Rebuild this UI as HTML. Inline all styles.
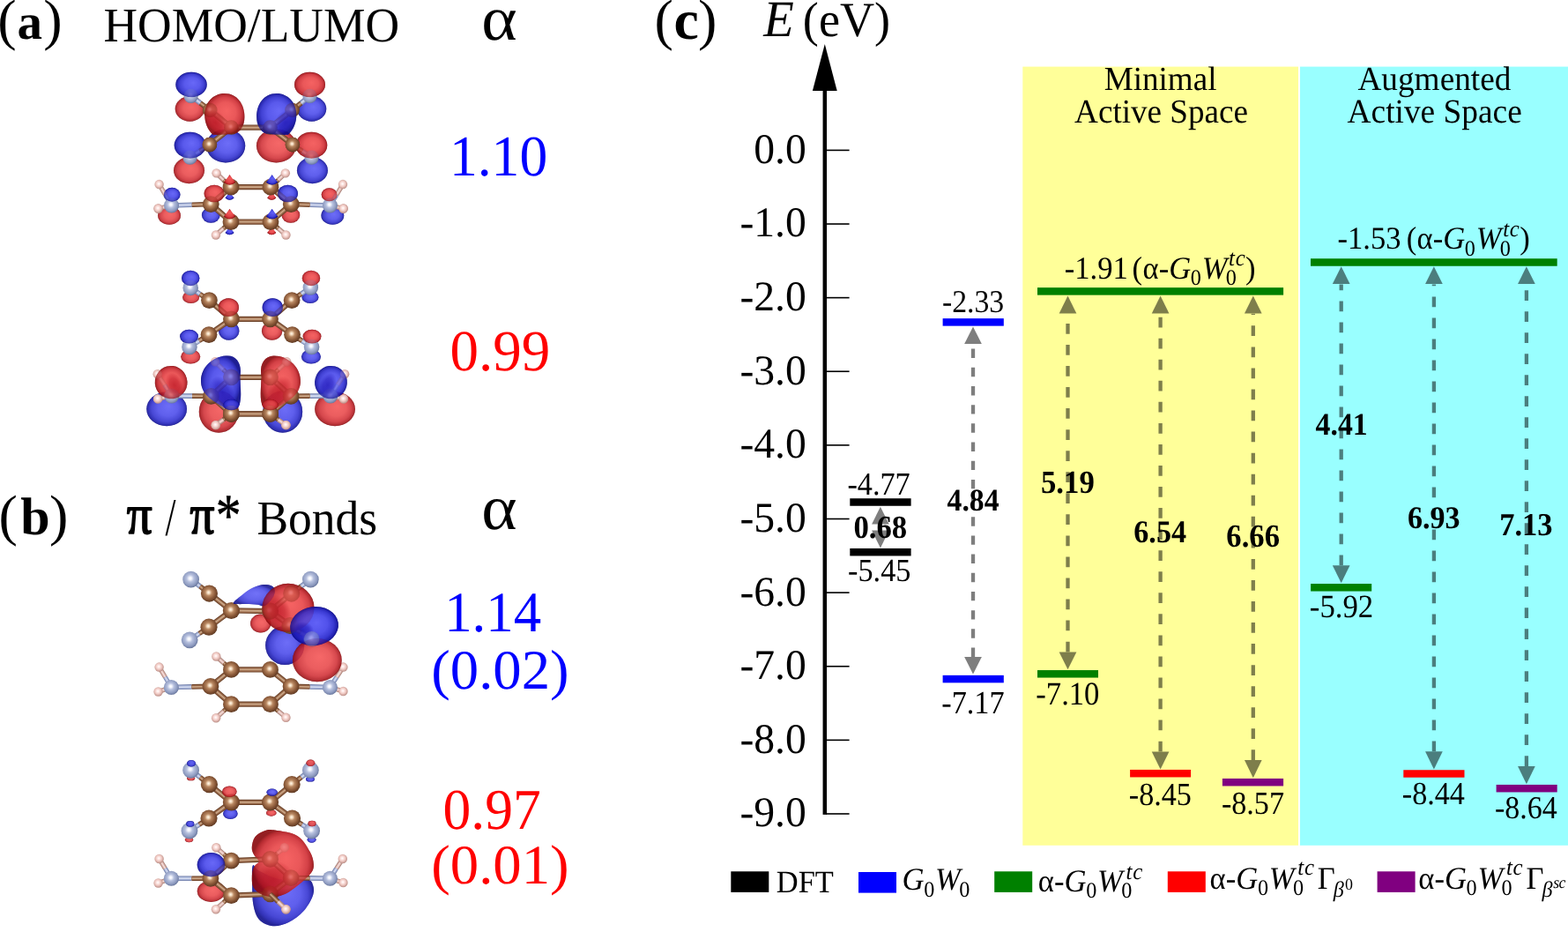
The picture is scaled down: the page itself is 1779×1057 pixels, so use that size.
<!DOCTYPE html>
<html><head><meta charset="utf-8"><title>Figure</title>
<style>
html,body{margin:0;padding:0;background:#fff;}
body{width:1779px;height:1057px;overflow:hidden;}
svg{display:block;font-family:'Liberation Serif', serif;font-kerning:none;text-rendering:geometricPrecision;}
text{white-space:pre;}
</style></head><body>
<svg width="1779" height="1057" viewBox="0 0 1779 1057">
<rect x="1160.3" y="75.6" width="312.7" height="883.2" fill="#ffff99"/>
<rect x="1475" y="75.6" width="304" height="883.2" fill="#99ffff"/>
<rect x="933.55" y="100" width="4.5" height="823.88" fill="#000"/>
<polygon points="935.8,50 921.9,103 949.7,103" fill="#000"/>
<rect x="937" y="169.60" width="26.6" height="1.6" fill="#000"/>
<rect x="937" y="253.22" width="26.6" height="1.6" fill="#000"/>
<rect x="937" y="336.84" width="26.6" height="1.6" fill="#000"/>
<rect x="937" y="420.46" width="26.6" height="1.6" fill="#000"/>
<rect x="937" y="504.08" width="26.6" height="1.6" fill="#000"/>
<rect x="937" y="587.70" width="26.6" height="1.6" fill="#000"/>
<rect x="937" y="671.32" width="26.6" height="1.6" fill="#000"/>
<rect x="937" y="754.94" width="26.6" height="1.6" fill="#000"/>
<rect x="937" y="838.56" width="26.6" height="1.6" fill="#000"/>
<rect x="937" y="922.18" width="26.6" height="1.6" fill="#000"/>
<g opacity="0.5">
<line x1="998.9" y1="601.60" x2="998.9" y2="594.40" stroke="#000" stroke-width="4.3" stroke-dasharray="10.4 10.78"/>
<polygon points="998.9,574.70 989.05,594.40 1008.75,594.40" fill="#000"/>
<polygon points="998.9,621.60 989.05,601.60 1008.75,601.60" fill="#000"/>
</g>
<g opacity="0.5">
<line x1="1104.0" y1="744.90" x2="1104.0" y2="390.30" stroke="#000" stroke-width="4.3" stroke-dasharray="10.4 10.78"/>
<polygon points="1104.0,370.40 1094.15,390.00 1113.85,390.00" fill="#000"/>
<polygon points="1104.0,764.60 1094.15,744.90 1113.85,744.90" fill="#000"/>
</g>
<g opacity="0.5">
<line x1="1211.5" y1="739.40" x2="1211.5" y2="355.80" stroke="#000" stroke-width="4.3" stroke-dasharray="11.75 12.3"/>
<polygon points="1211.5,335.40 1201.65,355.50 1221.35,355.50" fill="#000"/>
<polygon points="1211.5,759.30 1201.65,739.40 1221.35,739.40" fill="#000"/>
</g>
<g opacity="0.5">
<line x1="1316.6" y1="852.40" x2="1316.6" y2="355.80" stroke="#000" stroke-width="4.3" stroke-dasharray="11.75 12.3"/>
<polygon points="1316.6,335.40 1306.75,355.50 1326.45,355.50" fill="#000"/>
<polygon points="1316.6,872.50 1306.75,852.40 1326.45,852.40" fill="#000"/>
</g>
<g opacity="0.5">
<line x1="1421.8" y1="862.10" x2="1421.8" y2="355.80" stroke="#000" stroke-width="4.3" stroke-dasharray="11.75 12.3"/>
<polygon points="1421.8,335.40 1411.95,355.50 1431.65,355.50" fill="#000"/>
<polygon points="1421.8,882.30 1411.95,862.10 1431.65,862.10" fill="#000"/>
</g>
<g opacity="0.5">
<line x1="1521.7" y1="641.30" x2="1521.7" y2="322.40" stroke="#000" stroke-width="4.3" stroke-dasharray="11.75 12.25"/>
<polygon points="1521.7,302.15 1511.85,322.10 1531.55,322.10" fill="#000"/>
<polygon points="1521.7,661.20 1511.85,641.30 1531.55,641.30" fill="#000"/>
</g>
<g opacity="0.5">
<line x1="1626.9" y1="852.30" x2="1626.9" y2="322.40" stroke="#000" stroke-width="4.3" stroke-dasharray="11.75 12.25"/>
<polygon points="1626.9,302.15 1617.05,322.10 1636.75,322.10" fill="#000"/>
<polygon points="1626.9,872.50 1617.05,852.30 1636.75,852.30" fill="#000"/>
</g>
<g opacity="0.5">
<line x1="1731.9" y1="869.10" x2="1731.9" y2="322.40" stroke="#000" stroke-width="4.3" stroke-dasharray="11.75 12.25"/>
<polygon points="1731.9,302.15 1722.05,322.10 1741.75,322.10" fill="#000"/>
<polygon points="1731.9,889.20 1722.05,869.10 1741.75,869.10" fill="#000"/>
</g>
<rect x="964.30" y="565.25" width="69.30" height="8.5" fill="#000"/>
<rect x="964.30" y="621.95" width="69.30" height="8.5" fill="#000"/>
<rect x="1069.60" y="361.15" width="69.20" height="8.5" fill="#0000ff"/>
<rect x="1069.60" y="765.85" width="69.20" height="8.5" fill="#0000ff"/>
<rect x="1177.00" y="326.15" width="279.10" height="8.5" fill="#008000"/>
<rect x="1177.00" y="760.05" width="69.00" height="8.5" fill="#008000"/>
<rect x="1282.10" y="872.95" width="69.00" height="8.5" fill="#ff0000"/>
<rect x="1386.90" y="882.95" width="69.20" height="8.5" fill="#800080"/>
<rect x="1487.00" y="293.25" width="279.70" height="8.5" fill="#008000"/>
<rect x="1487.10" y="662.05" width="69.10" height="8.5" fill="#008000"/>
<rect x="1592.30" y="873.25" width="69.20" height="8.5" fill="#ff0000"/>
<rect x="1697.60" y="889.95" width="69.10" height="8.5" fill="#800080"/>
<text transform="translate(855.25,184.85) scale(1,1.0100)" font-size="47.65">0.0</text>
<text transform="translate(839.38,268.47) scale(1,1.0100)" font-size="47.65">-1.0</text>
<text transform="translate(839.38,352.09) scale(1,1.0100)" font-size="47.65">-2.0</text>
<text transform="translate(839.38,435.71) scale(1,1.0100)" font-size="47.65">-3.0</text>
<text transform="translate(839.38,519.33) scale(1,1.0100)" font-size="47.65">-4.0</text>
<text transform="translate(839.38,602.95) scale(1,1.0100)" font-size="47.65">-5.0</text>
<text transform="translate(839.38,686.57) scale(1,1.0100)" font-size="47.65">-6.0</text>
<text transform="translate(839.38,770.19) scale(1,1.0100)" font-size="47.65">-7.0</text>
<text transform="translate(839.38,853.81) scale(1,1.0100)" font-size="47.65">-8.0</text>
<text transform="translate(839.38,937.43) scale(1,1.0100)" font-size="47.65">-9.0</text>
<text transform="translate(961.48,560.50) scale(1,1.0700)" font-size="34.21">-4.77</text>
<text transform="translate(962.08,659.20) scale(1,1.0700)" font-size="34.28">-5.45</text>
<text transform="translate(1068.90,354.20) scale(1,1.0700)" font-size="33.78">-2.33</text>
<text transform="translate(1068.28,808.70) scale(1,1.0700)" font-size="34.26">-7.17</text>
<text transform="translate(1175.26,799.00) scale(1,1.0700)" font-size="34.66">-7.10</text>
<text transform="translate(1280.78,912.60) scale(1,1.0700)" font-size="34.18">-8.45</text>
<text transform="translate(1385.88,922.50) scale(1,1.0700)" font-size="34.16">-8.57</text>
<text transform="translate(1485.86,699.80) scale(1,1.0700)" font-size="34.76">-5.92</text>
<text transform="translate(1590.78,911.50) scale(1,1.0700)" font-size="34.18">-8.44</text>
<text transform="translate(1695.99,927.80) scale(1,1.0700)" font-size="33.99">-8.64</text>
<text transform="translate(968.43,609.80) scale(1,1.0550)" font-size="34.73" font-weight="bold">0.68</text>
<text transform="translate(1074.59,579.30) scale(1,1.0550)" font-size="33.71" font-weight="bold">4.84</text>
<text transform="translate(1180.96,559.30) scale(1,1.0550)" font-size="34.77" font-weight="bold">5.19</text>
<text transform="translate(1286.28,615.30) scale(1,1.0550)" font-size="34.17" font-weight="bold">6.54</text>
<text transform="translate(1391.36,620.10) scale(1,1.0550)" font-size="34.69" font-weight="bold">6.66</text>
<text transform="translate(1492.59,493.10) scale(1,1.0550)" font-size="33.78" font-weight="bold">4.41</text>
<text transform="translate(1596.99,599.10) scale(1,1.0550)" font-size="34.07" font-weight="bold">6.93</text>
<text transform="translate(1701.18,607.40) scale(1,1.0550)" font-size="34.49" font-weight="bold">7.13</text>
<text transform="translate(1252.68,101.80) scale(1,1.0300)" font-size="37.11">Minimal</text>
<text transform="translate(1219.09,138.50) scale(1,1.0300)" font-size="37.14">Active Space</text>
<text transform="translate(1540.39,101.80) scale(1,1.0300)" font-size="37.30">Augmented</text>
<text transform="translate(1528.59,138.50) scale(1,1.0300)" font-size="37.37">Active Space</text>
<text transform="scale(1,1.0000)"><tspan x="742.38" y="44.30" font-size="64.20">(</tspan><tspan x="764.57" y="44.30" font-size="63.68" font-weight="bold">c</tspan><tspan x="791.93" y="44.30" font-size="64.20">)</tspan></text>
<text transform="translate(866.21,40.90) scale(1,1.0300)" font-size="56.56" font-style="italic">E</text>
<text transform="translate(910.87,41.00) scale(1,1.0300)" font-size="54.18">(eV)</text>
<text transform="scale(1,1.0400)"><tspan x="1207.82" y="303.46" font-size="34.60">-1.91</tspan><tspan x="1284.58" y="303.46" font-size="34.60">(</tspan><tspan x="1296.38" y="303.46" font-size="34.60">α</tspan><tspan x="1314.72" y="303.46" font-size="34.60">-</tspan><tspan x="1326.19" y="303.46" font-size="34.60" font-style="italic">G</tspan><tspan x="1350.78" y="310.58" font-size="24.22">0</tspan><tspan x="1363.72" y="303.46" font-size="34.60" font-style="italic">W</tspan><tspan x="1390.78" y="310.58" font-size="24.22">0</tspan><tspan x="1394.11" y="289.13" font-size="24.91" font-style="italic" letter-spacing="0.7">tc</tspan><tspan x="1413.08" y="303.46" font-size="34.60">)</tspan></text>
<text transform="scale(1,1.0400)"><tspan x="1517.52" y="271.63" font-size="34.60">-1.53</tspan><tspan x="1595.63" y="271.63" font-size="34.60">(</tspan><tspan x="1607.43" y="271.63" font-size="34.60">α</tspan><tspan x="1625.77" y="271.63" font-size="34.60">-</tspan><tspan x="1637.24" y="271.63" font-size="34.60" font-style="italic">G</tspan><tspan x="1661.83" y="278.75" font-size="24.22">0</tspan><tspan x="1674.77" y="271.63" font-size="34.60" font-style="italic">W</tspan><tspan x="1701.83" y="278.75" font-size="24.22">0</tspan><tspan x="1705.16" y="257.31" font-size="24.91" font-style="italic" letter-spacing="0.7">tc</tspan><tspan x="1724.13" y="271.63" font-size="34.60">)</tspan></text>
<rect x="829.3" y="988.3" width="43" height="23.6" fill="#000"/>
<text transform="translate(880.86,1011.70) scale(1,1.0300)" font-size="34.44">DFT</text>
<rect x="974" y="989" width="43" height="23.6" fill="#0000ff"/>
<text transform="scale(1,1.0400)"><tspan x="1023.59" y="970.58" font-size="34.60" font-style="italic">G</tspan><tspan x="1048.18" y="977.69" font-size="24.22">0</tspan><tspan x="1061.12" y="970.58" font-size="34.60" font-style="italic">W</tspan><tspan x="1088.18" y="977.69" font-size="24.22">0</tspan></text>
<rect x="1128.2" y="988.3" width="43" height="23.6" fill="#008000"/>
<text transform="scale(1,1.0400)"><tspan x="1177.78" y="972.12" font-size="34.60">α</tspan><tspan x="1196.12" y="972.12" font-size="34.60">-</tspan><tspan x="1207.59" y="972.12" font-size="34.60" font-style="italic">G</tspan><tspan x="1232.18" y="979.23" font-size="24.22">0</tspan><tspan x="1245.12" y="972.12" font-size="34.60" font-style="italic">W</tspan><tspan x="1272.18" y="979.23" font-size="24.22">0</tspan><tspan x="1277.61" y="958.65" font-size="24.91" font-style="italic" letter-spacing="0.7">tc</tspan></text>
<rect x="1324.8" y="988.3" width="43" height="23.6" fill="#ff0000"/>
<text transform="scale(1,1.0400)"><tspan x="1372.48" y="969.23" font-size="34.60">α</tspan><tspan x="1390.82" y="969.23" font-size="34.60">-</tspan><tspan x="1402.29" y="969.23" font-size="34.60" font-style="italic">G</tspan><tspan x="1426.88" y="976.35" font-size="24.22">0</tspan><tspan x="1439.82" y="969.23" font-size="34.60" font-style="italic">W</tspan><tspan x="1466.88" y="976.35" font-size="24.22">0</tspan><tspan x="1472.31" y="954.23" font-size="24.91" font-style="italic" letter-spacing="0.7">tc</tspan><tspan x="1494.80" y="969.23" font-size="34.60">Γ</tspan><tspan x="1512.79" y="977.60" font-size="24.22" font-style="italic">β</tspan><tspan x="1525.92" y="969.81" font-size="17.92">0</tspan></text>
<rect x="1562.6" y="988.3" width="43" height="23.6" fill="#800080"/>
<text transform="scale(1,1.0400)"><tspan x="1609.18" y="969.23" font-size="34.60">α</tspan><tspan x="1627.52" y="969.23" font-size="34.60">-</tspan><tspan x="1638.99" y="969.23" font-size="34.60" font-style="italic">G</tspan><tspan x="1663.58" y="976.35" font-size="24.22">0</tspan><tspan x="1676.52" y="969.23" font-size="34.60" font-style="italic">W</tspan><tspan x="1703.58" y="976.35" font-size="24.22">0</tspan><tspan x="1709.01" y="954.23" font-size="24.91" font-style="italic" letter-spacing="0.7">tc</tspan><tspan x="1731.50" y="969.23" font-size="34.60">Γ</tspan><tspan x="1749.49" y="977.60" font-size="24.22" font-style="italic">β</tspan><tspan x="1762.18" y="968.27" font-size="17.92" font-style="italic" letter-spacing="-0.6">sc</tspan></text>
<text transform="scale(1,1.0000)"><tspan x="-2.82" y="44.20" font-size="64.20">(</tspan><tspan x="19.61" y="44.20" font-size="57.00" font-weight="bold">a</tspan><tspan x="49.13" y="44.20" font-size="64.20">)</tspan></text>
<text transform="translate(117.46,47.30) scale(1,1.0300)" font-size="53.48">HOMO/LUMO</text>
<text transform="translate(546.31,45.30) scale(1,0.9288)" font-size="77.15">α</text>
<text transform="translate(509.91,198.82) scale(1,1.0305)" font-size="63.58" fill="#0000ff">1.10</text>
<text transform="translate(510.47,420.42) scale(1,1.0126)" font-size="64.99" fill="#ff0000">0.99</text>
<text transform="scale(1,1.0000)"><tspan x="-1.57" y="606.00" font-size="64.20">(</tspan><tspan x="23.19" y="606.00" font-size="60.05" font-weight="bold">b</tspan><tspan x="55.93" y="606.00" font-size="64.20">)</tspan></text>
<text transform="translate(143.77,604.83) scale(1,1.1049)" font-size="57.34" stroke="#000" stroke-width="1.5" stroke-linejoin="round">π</text>
<text transform="translate(187.55,606.56) scale(1,1.4087)" font-size="43.19">/</text>
<text transform="translate(215.49,604.83) scale(1,1.1469)" font-size="55.24" stroke="#000" stroke-width="1.5" stroke-linejoin="round">π</text>
<text transform="translate(244.63,606.71) scale(1,1.1754)" font-size="57.77" stroke="#000" stroke-width="0.5" stroke-linejoin="round">*</text>
<text transform="translate(291.41,605.80) scale(1,1.0300)" font-size="53.51">Bonds</text>
<text transform="translate(546.22,599.75) scale(1,0.9355)" font-size="77.04">α</text>
<text transform="translate(504.13,716.13) scale(1,1.0343)" font-size="62.80" fill="#0000ff">1.14</text>
<text transform="translate(489.31,780.97) scale(1,0.9786)" font-size="64.69" fill="#0000ff">(0.02)</text>
<text transform="translate(502.53,939.62) scale(1,1.0292)" font-size="63.51" fill="#ff0000">0.97</text>
<text transform="translate(489.31,1002.32) scale(1,0.9752)" font-size="64.69" fill="#ff0000">(0.01)</text>
<defs>
<radialGradient id="gC" cx="0.46" cy="0.44" r="0.58">
<stop offset="0" stop-color="#fff8ec"/><stop offset="0.13" stop-color="#f4dcc0"/><stop offset="0.34" stop-color="#b98862"/><stop offset="0.7" stop-color="#875636"/><stop offset="1" stop-color="#5a3620"/>
</radialGradient>
<radialGradient id="gN" cx="0.46" cy="0.44" r="0.58">
<stop offset="0" stop-color="#ffffff"/><stop offset="0.14" stop-color="#f2f4fc"/><stop offset="0.38" stop-color="#b6c0de"/><stop offset="0.75" stop-color="#8e9bc0"/><stop offset="1" stop-color="#647298"/>
</radialGradient>
<radialGradient id="gH" cx="0.46" cy="0.44" r="0.58">
<stop offset="0" stop-color="#ffffff"/><stop offset="0.18" stop-color="#ffeeec"/><stop offset="0.55" stop-color="#efc8c2"/><stop offset="1" stop-color="#b88a82"/>
</radialGradient>
<radialGradient id="gB" cx="0.5" cy="0.5" r="0.5" fx="0.56" fy="0.42">
<stop offset="0" stop-color="#5a5af6"/><stop offset="0.5" stop-color="#4a4aea"/><stop offset="0.78" stop-color="#3030d0"/><stop offset="0.92" stop-color="#1818ae"/><stop offset="1" stop-color="#0a0a8a"/>
</radialGradient>
<radialGradient id="gR" cx="0.5" cy="0.5" r="0.5" fx="0.56" fy="0.42">
<stop offset="0" stop-color="#f45454"/><stop offset="0.5" stop-color="#e8484a"/><stop offset="0.78" stop-color="#d03036"/><stop offset="0.92" stop-color="#b0181e"/><stop offset="1" stop-color="#8a0a0e"/>
</radialGradient>
<radialGradient id="gBd"><stop offset="0" stop-color="#1408a8" stop-opacity="0.6"/><stop offset="0.55" stop-color="#1408a8" stop-opacity="0.42"/><stop offset="1" stop-color="#1408a8" stop-opacity="0"/></radialGradient>
<radialGradient id="gRd"><stop offset="0" stop-color="#b00818" stop-opacity="0.6"/><stop offset="0.55" stop-color="#b00818" stop-opacity="0.42"/><stop offset="1" stop-color="#b00818" stop-opacity="0"/></radialGradient>
</defs>
<g transform="translate(150,70) scale(0.20818)">
<ellipse cx="314" cy="257" rx="80" ry="68" fill="url(#gR)" opacity="0.66"/><ellipse cx="314" cy="257" rx="80" ry="68" fill="url(#gR)" opacity="0.66"/><ellipse cx="978" cy="257" rx="80" ry="68" fill="url(#gB)" opacity="0.66"/><ellipse cx="978" cy="257" rx="80" ry="68" fill="url(#gB)" opacity="0.66"/><ellipse cx="310" cy="592" rx="84" ry="72" fill="url(#gR)" opacity="0.66"/><ellipse cx="310" cy="592" rx="84" ry="72" fill="url(#gR)" opacity="0.66"/><ellipse cx="982" cy="592" rx="84" ry="72" fill="url(#gB)" opacity="0.66"/><ellipse cx="982" cy="592" rx="84" ry="72" fill="url(#gB)" opacity="0.66"/><ellipse cx="510" cy="458" rx="106" ry="92" fill="url(#gB)" opacity="0.66"/><ellipse cx="510" cy="458" rx="106" ry="92" fill="url(#gB)" opacity="0.66"/><ellipse cx="785" cy="458" rx="108" ry="92" fill="url(#gR)" opacity="0.66"/><ellipse cx="785" cy="458" rx="108" ry="92" fill="url(#gR)" opacity="0.66"/><ellipse cx="322" cy="125" rx="85" ry="68" fill="url(#gB)" opacity="0.72"/><ellipse cx="968" cy="125" rx="84" ry="68" fill="url(#gR)" opacity="0.72"/><ellipse cx="315" cy="455" rx="86" ry="72" fill="url(#gB)" opacity="0.72"/><ellipse cx="977" cy="455" rx="86" ry="72" fill="url(#gR)" opacity="0.72"/><path d="M503,173 C575,173 612,235 612,300 C612,350 590,380 560,392 C520,396 480,400 440,398 C410,370 395,330 395,288 C395,225 440,173 503,173 Z" fill="url(#gR)" opacity="0.72"/><path d="M787,173 C715,173 678,235 678,300 C678,350 700,380 730,392 C770,396 810,400 850,398 C880,370 895,330 895,288 C895,225 850,173 787,173 Z" fill="url(#gB)" opacity="0.72"/><ellipse cx="429" cy="836" rx="50" ry="42" fill="url(#gB)" opacity="0.66"/><ellipse cx="429" cy="836" rx="50" ry="42" fill="url(#gB)" opacity="0.66"/><ellipse cx="864" cy="836" rx="50" ry="42" fill="url(#gR)" opacity="0.66"/><ellipse cx="864" cy="836" rx="50" ry="42" fill="url(#gR)" opacity="0.66"/><ellipse cx="202" cy="838" rx="62" ry="50" fill="url(#gR)" opacity="0.66"/><ellipse cx="202" cy="838" rx="62" ry="50" fill="url(#gR)" opacity="0.66"/><ellipse cx="1092" cy="838" rx="62" ry="50" fill="url(#gB)" opacity="0.66"/><ellipse cx="1092" cy="838" rx="62" ry="50" fill="url(#gB)" opacity="0.66"/><ellipse cx="447" cy="718" rx="55" ry="47" fill="url(#gR)" opacity="0.72"/><ellipse cx="848" cy="718" rx="55" ry="47" fill="url(#gB)" opacity="0.72"/><ellipse cx="217" cy="724" rx="45" ry="38" fill="url(#gB)" opacity="0.72"/><ellipse cx="1074" cy="724" rx="43" ry="36" fill="url(#gR)" opacity="0.72"/><path d="M531,708 Q543.0,727.6 555,741.6 Q531,764 507,741.6 Q519.0,727.6 531,708 Z" fill="url(#gB)" opacity="0.8"/><path d="M531,708 Q543.0,727.6 555,741.6 Q531,764 507,741.6 Q519.0,727.6 531,708 Z" fill="url(#gB)" opacity="0.8"/><path d="M760,708 Q772.0,727.6 784,741.6 Q760,764 736,741.6 Q748.0,727.6 760,708 Z" fill="url(#gR)" opacity="0.8"/><path d="M760,708 Q772.0,727.6 784,741.6 Q760,764 736,741.6 Q748.0,727.6 760,708 Z" fill="url(#gR)" opacity="0.8"/><path d="M531,898 Q543.0,917.6 555,931.6 Q531,954 507,931.6 Q519.0,917.6 531,898 Z" fill="url(#gB)" opacity="0.8"/><path d="M531,898 Q543.0,917.6 555,931.6 Q531,954 507,931.6 Q519.0,917.6 531,898 Z" fill="url(#gB)" opacity="0.8"/><path d="M760,898 Q772.0,917.6 784,931.6 Q760,954 736,931.6 Q748.0,917.6 760,898 Z" fill="url(#gR)" opacity="0.8"/><path d="M760,898 Q772.0,917.6 784,931.6 Q760,954 736,931.6 Q748.0,917.6 760,898 Z" fill="url(#gR)" opacity="0.8"/>
<line x1="320.0" y1="187.0" x2="372.0" y2="225.5" stroke="#7582ac" stroke-width="27"/><line x1="320.0" y1="187.0" x2="372.0" y2="225.5" stroke="#a2afd4" stroke-width="18.9"/><line x1="320.0" y1="187.0" x2="372.0" y2="225.5" stroke="#d4dbf0" stroke-width="7.6"/><line x1="372.0" y1="225.5" x2="424.0" y2="264.0" stroke="#6b4228" stroke-width="27"/><line x1="372.0" y1="225.5" x2="424.0" y2="264.0" stroke="#98684a" stroke-width="18.9"/><line x1="372.0" y1="225.5" x2="424.0" y2="264.0" stroke="#caa686" stroke-width="7.6"/><line x1="968.0" y1="187.0" x2="920.0" y2="225.5" stroke="#7582ac" stroke-width="27"/><line x1="968.0" y1="187.0" x2="920.0" y2="225.5" stroke="#a2afd4" stroke-width="18.9"/><line x1="968.0" y1="187.0" x2="920.0" y2="225.5" stroke="#d4dbf0" stroke-width="7.6"/><line x1="920.0" y1="225.5" x2="872.0" y2="264.0" stroke="#6b4228" stroke-width="27"/><line x1="920.0" y1="225.5" x2="872.0" y2="264.0" stroke="#98684a" stroke-width="18.9"/><line x1="920.0" y1="225.5" x2="872.0" y2="264.0" stroke="#caa686" stroke-width="7.6"/><line x1="315.0" y1="522.0" x2="368.5" y2="487.0" stroke="#7582ac" stroke-width="27"/><line x1="315.0" y1="522.0" x2="368.5" y2="487.0" stroke="#a2afd4" stroke-width="18.9"/><line x1="315.0" y1="522.0" x2="368.5" y2="487.0" stroke="#d4dbf0" stroke-width="7.6"/><line x1="368.5" y1="487.0" x2="422.0" y2="452.0" stroke="#6b4228" stroke-width="27"/><line x1="368.5" y1="487.0" x2="422.0" y2="452.0" stroke="#98684a" stroke-width="18.9"/><line x1="368.5" y1="487.0" x2="422.0" y2="452.0" stroke="#caa686" stroke-width="7.6"/><line x1="978.0" y1="522.0" x2="926.0" y2="487.0" stroke="#7582ac" stroke-width="27"/><line x1="978.0" y1="522.0" x2="926.0" y2="487.0" stroke="#a2afd4" stroke-width="18.9"/><line x1="978.0" y1="522.0" x2="926.0" y2="487.0" stroke="#d4dbf0" stroke-width="7.6"/><line x1="926.0" y1="487.0" x2="874.0" y2="452.0" stroke="#6b4228" stroke-width="27"/><line x1="926.0" y1="487.0" x2="874.0" y2="452.0" stroke="#98684a" stroke-width="18.9"/><line x1="926.0" y1="487.0" x2="874.0" y2="452.0" stroke="#caa686" stroke-width="7.6"/><line x1="424.0" y1="264.0" x2="540.0" y2="358.0" stroke="#6b4228" stroke-width="30"/><line x1="424.0" y1="264.0" x2="540.0" y2="358.0" stroke="#98684a" stroke-width="21.0"/><line x1="424.0" y1="264.0" x2="540.0" y2="358.0" stroke="#caa686" stroke-width="8.4"/><line x1="422.0" y1="452.0" x2="540.0" y2="358.0" stroke="#6b4228" stroke-width="30"/><line x1="422.0" y1="452.0" x2="540.0" y2="358.0" stroke="#98684a" stroke-width="21.0"/><line x1="422.0" y1="452.0" x2="540.0" y2="358.0" stroke="#caa686" stroke-width="8.4"/><line x1="872.0" y1="264.0" x2="752.0" y2="358.0" stroke="#6b4228" stroke-width="30"/><line x1="872.0" y1="264.0" x2="752.0" y2="358.0" stroke="#98684a" stroke-width="21.0"/><line x1="872.0" y1="264.0" x2="752.0" y2="358.0" stroke="#caa686" stroke-width="8.4"/><line x1="874.0" y1="452.0" x2="752.0" y2="358.0" stroke="#6b4228" stroke-width="30"/><line x1="874.0" y1="452.0" x2="752.0" y2="358.0" stroke="#98684a" stroke-width="21.0"/><line x1="874.0" y1="452.0" x2="752.0" y2="358.0" stroke="#caa686" stroke-width="8.4"/><line x1="540.0" y1="358.0" x2="752.0" y2="358.0" stroke="#6b4228" stroke-width="30"/><line x1="540.0" y1="358.0" x2="752.0" y2="358.0" stroke="#98684a" stroke-width="21.0"/><line x1="540.0" y1="358.0" x2="752.0" y2="358.0" stroke="#caa686" stroke-width="8.4"/><circle cx="320" cy="187" r="39" fill="url(#gN)"/><circle cx="968" cy="187" r="39" fill="url(#gN)"/><circle cx="315" cy="522" r="39" fill="url(#gN)"/><circle cx="978" cy="522" r="39" fill="url(#gN)"/><circle cx="424" cy="264" r="40" fill="url(#gC)"/><circle cx="872" cy="264" r="40" fill="url(#gC)"/><circle cx="422" cy="452" r="40" fill="url(#gC)"/><circle cx="874" cy="452" r="40" fill="url(#gC)"/><circle cx="540" cy="358" r="40" fill="url(#gC)"/><circle cx="752" cy="358" r="40" fill="url(#gC)"/><line x1="459.0" y1="607.0" x2="498.5" y2="645.0" stroke="#a8827a" stroke-width="25"/><line x1="459.0" y1="607.0" x2="498.5" y2="645.0" stroke="#d8b0a8" stroke-width="17.5"/><line x1="459.0" y1="607.0" x2="498.5" y2="645.0" stroke="#f4dcd8" stroke-width="7.0"/><line x1="498.5" y1="645.0" x2="538.0" y2="683.0" stroke="#6b4228" stroke-width="25"/><line x1="498.5" y1="645.0" x2="538.0" y2="683.0" stroke="#98684a" stroke-width="17.5"/><line x1="498.5" y1="645.0" x2="538.0" y2="683.0" stroke="#caa686" stroke-width="7.0"/><line x1="835.0" y1="607.0" x2="794.5" y2="645.0" stroke="#a8827a" stroke-width="25"/><line x1="835.0" y1="607.0" x2="794.5" y2="645.0" stroke="#d8b0a8" stroke-width="17.5"/><line x1="835.0" y1="607.0" x2="794.5" y2="645.0" stroke="#f4dcd8" stroke-width="7.0"/><line x1="794.5" y1="645.0" x2="754.0" y2="683.0" stroke="#6b4228" stroke-width="25"/><line x1="794.5" y1="645.0" x2="754.0" y2="683.0" stroke="#98684a" stroke-width="17.5"/><line x1="794.5" y1="645.0" x2="754.0" y2="683.0" stroke="#caa686" stroke-width="7.0"/><line x1="456.0" y1="944.0" x2="497.0" y2="908.0" stroke="#a8827a" stroke-width="25"/><line x1="456.0" y1="944.0" x2="497.0" y2="908.0" stroke="#d8b0a8" stroke-width="17.5"/><line x1="456.0" y1="944.0" x2="497.0" y2="908.0" stroke="#f4dcd8" stroke-width="7.0"/><line x1="497.0" y1="908.0" x2="538.0" y2="872.0" stroke="#6b4228" stroke-width="25"/><line x1="497.0" y1="908.0" x2="538.0" y2="872.0" stroke="#98684a" stroke-width="17.5"/><line x1="497.0" y1="908.0" x2="538.0" y2="872.0" stroke="#caa686" stroke-width="7.0"/><line x1="838.0" y1="944.0" x2="796.0" y2="908.0" stroke="#a8827a" stroke-width="25"/><line x1="838.0" y1="944.0" x2="796.0" y2="908.0" stroke="#d8b0a8" stroke-width="17.5"/><line x1="838.0" y1="944.0" x2="796.0" y2="908.0" stroke="#f4dcd8" stroke-width="7.0"/><line x1="796.0" y1="908.0" x2="754.0" y2="872.0" stroke="#6b4228" stroke-width="25"/><line x1="796.0" y1="908.0" x2="754.0" y2="872.0" stroke="#98684a" stroke-width="17.5"/><line x1="796.0" y1="908.0" x2="754.0" y2="872.0" stroke="#caa686" stroke-width="7.0"/><line x1="147.0" y1="668.0" x2="180.5" y2="725.5" stroke="#a8827a" stroke-width="25"/><line x1="147.0" y1="668.0" x2="180.5" y2="725.5" stroke="#d8b0a8" stroke-width="17.5"/><line x1="147.0" y1="668.0" x2="180.5" y2="725.5" stroke="#f4dcd8" stroke-width="7.0"/><line x1="180.5" y1="725.5" x2="214.0" y2="783.0" stroke="#7582ac" stroke-width="25"/><line x1="180.5" y1="725.5" x2="214.0" y2="783.0" stroke="#a2afd4" stroke-width="17.5"/><line x1="180.5" y1="725.5" x2="214.0" y2="783.0" stroke="#d4dbf0" stroke-width="7.0"/><line x1="142.0" y1="800.0" x2="178.0" y2="791.5" stroke="#a8827a" stroke-width="25"/><line x1="142.0" y1="800.0" x2="178.0" y2="791.5" stroke="#d8b0a8" stroke-width="17.5"/><line x1="142.0" y1="800.0" x2="178.0" y2="791.5" stroke="#f4dcd8" stroke-width="7.0"/><line x1="178.0" y1="791.5" x2="214.0" y2="783.0" stroke="#7582ac" stroke-width="25"/><line x1="178.0" y1="791.5" x2="214.0" y2="783.0" stroke="#a2afd4" stroke-width="17.5"/><line x1="178.0" y1="791.5" x2="214.0" y2="783.0" stroke="#d4dbf0" stroke-width="7.0"/><line x1="1148.0" y1="668.0" x2="1113.0" y2="725.5" stroke="#a8827a" stroke-width="25"/><line x1="1148.0" y1="668.0" x2="1113.0" y2="725.5" stroke="#d8b0a8" stroke-width="17.5"/><line x1="1148.0" y1="668.0" x2="1113.0" y2="725.5" stroke="#f4dcd8" stroke-width="7.0"/><line x1="1113.0" y1="725.5" x2="1078.0" y2="783.0" stroke="#7582ac" stroke-width="25"/><line x1="1113.0" y1="725.5" x2="1078.0" y2="783.0" stroke="#a2afd4" stroke-width="17.5"/><line x1="1113.0" y1="725.5" x2="1078.0" y2="783.0" stroke="#d4dbf0" stroke-width="7.0"/><line x1="1151.0" y1="800.0" x2="1114.5" y2="791.5" stroke="#a8827a" stroke-width="25"/><line x1="1151.0" y1="800.0" x2="1114.5" y2="791.5" stroke="#d8b0a8" stroke-width="17.5"/><line x1="1151.0" y1="800.0" x2="1114.5" y2="791.5" stroke="#f4dcd8" stroke-width="7.0"/><line x1="1114.5" y1="791.5" x2="1078.0" y2="783.0" stroke="#7582ac" stroke-width="25"/><line x1="1114.5" y1="791.5" x2="1078.0" y2="783.0" stroke="#a2afd4" stroke-width="17.5"/><line x1="1114.5" y1="791.5" x2="1078.0" y2="783.0" stroke="#d4dbf0" stroke-width="7.0"/><line x1="214.0" y1="783.0" x2="325.8" y2="779.4" stroke="#7582ac" stroke-width="27"/><line x1="214.0" y1="783.0" x2="325.8" y2="779.4" stroke="#a2afd4" stroke-width="18.9"/><line x1="214.0" y1="783.0" x2="325.8" y2="779.4" stroke="#d4dbf0" stroke-width="7.6"/><line x1="325.8" y1="779.4" x2="429.0" y2="776.0" stroke="#6b4228" stroke-width="27"/><line x1="325.8" y1="779.4" x2="429.0" y2="776.0" stroke="#98684a" stroke-width="18.9"/><line x1="325.8" y1="779.4" x2="429.0" y2="776.0" stroke="#caa686" stroke-width="7.6"/><line x1="1078.0" y1="783.0" x2="967.8" y2="779.4" stroke="#7582ac" stroke-width="27"/><line x1="1078.0" y1="783.0" x2="967.8" y2="779.4" stroke="#a2afd4" stroke-width="18.9"/><line x1="1078.0" y1="783.0" x2="967.8" y2="779.4" stroke="#d4dbf0" stroke-width="7.6"/><line x1="967.8" y1="779.4" x2="866.0" y2="776.0" stroke="#6b4228" stroke-width="27"/><line x1="967.8" y1="779.4" x2="866.0" y2="776.0" stroke="#98684a" stroke-width="18.9"/><line x1="967.8" y1="779.4" x2="866.0" y2="776.0" stroke="#caa686" stroke-width="7.6"/><line x1="538.0" y1="683.0" x2="754.0" y2="683.0" stroke="#6b4228" stroke-width="30"/><line x1="538.0" y1="683.0" x2="754.0" y2="683.0" stroke="#98684a" stroke-width="21.0"/><line x1="538.0" y1="683.0" x2="754.0" y2="683.0" stroke="#caa686" stroke-width="8.4"/><line x1="538.0" y1="683.0" x2="429.0" y2="776.0" stroke="#6b4228" stroke-width="30"/><line x1="538.0" y1="683.0" x2="429.0" y2="776.0" stroke="#98684a" stroke-width="21.0"/><line x1="538.0" y1="683.0" x2="429.0" y2="776.0" stroke="#caa686" stroke-width="8.4"/><line x1="754.0" y1="683.0" x2="866.0" y2="776.0" stroke="#6b4228" stroke-width="30"/><line x1="754.0" y1="683.0" x2="866.0" y2="776.0" stroke="#98684a" stroke-width="21.0"/><line x1="754.0" y1="683.0" x2="866.0" y2="776.0" stroke="#caa686" stroke-width="8.4"/><line x1="429.0" y1="776.0" x2="538.0" y2="872.0" stroke="#6b4228" stroke-width="30"/><line x1="429.0" y1="776.0" x2="538.0" y2="872.0" stroke="#98684a" stroke-width="21.0"/><line x1="429.0" y1="776.0" x2="538.0" y2="872.0" stroke="#caa686" stroke-width="8.4"/><line x1="866.0" y1="776.0" x2="754.0" y2="872.0" stroke="#6b4228" stroke-width="30"/><line x1="866.0" y1="776.0" x2="754.0" y2="872.0" stroke="#98684a" stroke-width="21.0"/><line x1="866.0" y1="776.0" x2="754.0" y2="872.0" stroke="#caa686" stroke-width="8.4"/><line x1="538.0" y1="872.0" x2="754.0" y2="872.0" stroke="#6b4228" stroke-width="30"/><line x1="538.0" y1="872.0" x2="754.0" y2="872.0" stroke="#98684a" stroke-width="21.0"/><line x1="538.0" y1="872.0" x2="754.0" y2="872.0" stroke="#caa686" stroke-width="8.4"/><circle cx="459" cy="607" r="25" fill="url(#gH)"/><circle cx="835" cy="607" r="25" fill="url(#gH)"/><circle cx="456" cy="944" r="25" fill="url(#gH)"/><circle cx="838" cy="944" r="25" fill="url(#gH)"/><circle cx="147" cy="668" r="25" fill="url(#gH)"/><circle cx="142" cy="800" r="25" fill="url(#gH)"/><circle cx="1148" cy="668" r="25" fill="url(#gH)"/><circle cx="1151" cy="800" r="25" fill="url(#gH)"/><circle cx="214" cy="783" r="41" fill="url(#gN)"/><circle cx="1078" cy="783" r="41" fill="url(#gN)"/><circle cx="538" cy="683" r="45" fill="url(#gC)"/><circle cx="754" cy="683" r="45" fill="url(#gC)"/><circle cx="429" cy="776" r="45" fill="url(#gC)"/><circle cx="866" cy="776" r="45" fill="url(#gC)"/><circle cx="538" cy="872" r="45" fill="url(#gC)"/><circle cx="754" cy="872" r="45" fill="url(#gC)"/>
<ellipse cx="322" cy="125" rx="85" ry="68" fill="url(#gB)" opacity="0.7"/><ellipse cx="968" cy="125" rx="84" ry="68" fill="url(#gR)" opacity="0.7"/><ellipse cx="315" cy="455" rx="86" ry="72" fill="url(#gB)" opacity="0.7"/><ellipse cx="977" cy="455" rx="86" ry="72" fill="url(#gR)" opacity="0.7"/><path d="M503,173 C575,173 612,235 612,300 C612,350 590,380 560,392 C520,396 480,400 440,398 C410,370 395,330 395,288 C395,225 440,173 503,173 Z" fill="url(#gR)" opacity="0.7"/><path d="M787,173 C715,173 678,235 678,300 C678,350 700,380 730,392 C770,396 810,400 850,398 C880,370 895,330 895,288 C895,225 850,173 787,173 Z" fill="url(#gB)" opacity="0.7"/><ellipse cx="455" cy="330" rx="55" ry="75" fill="url(#gRd)" transform="rotate(-35 455 330)"/><ellipse cx="835" cy="330" rx="55" ry="75" fill="url(#gBd)" transform="rotate(35 835 330)"/><ellipse cx="447" cy="718" rx="55" ry="47" fill="url(#gR)" opacity="0.7"/><ellipse cx="848" cy="718" rx="55" ry="47" fill="url(#gB)" opacity="0.7"/><ellipse cx="217" cy="724" rx="45" ry="38" fill="url(#gB)" opacity="0.7"/><ellipse cx="1074" cy="724" rx="43" ry="36" fill="url(#gR)" opacity="0.7"/><path d="M531,616 Q547.0,639.8 563,656.8 Q531,684 499,656.8 Q515.0,639.8 531,616 Z" fill="url(#gR)" opacity="0.8"/><path d="M531,616 Q547.0,639.8 563,656.8 Q531,684 499,656.8 Q515.0,639.8 531,616 Z" fill="url(#gR)" opacity="0.8"/><path d="M762,616 Q778.0,639.8 794,656.8 Q762,684 730,656.8 Q746.0,639.8 762,616 Z" fill="url(#gB)" opacity="0.8"/><path d="M762,616 Q778.0,639.8 794,656.8 Q762,684 730,656.8 Q746.0,639.8 762,616 Z" fill="url(#gB)" opacity="0.8"/><path d="M531,802 Q547.0,825.8 563,842.8 Q531,870 499,842.8 Q515.0,825.8 531,802 Z" fill="url(#gR)" opacity="0.8"/><path d="M531,802 Q547.0,825.8 563,842.8 Q531,870 499,842.8 Q515.0,825.8 531,802 Z" fill="url(#gR)" opacity="0.8"/><path d="M762,802 Q778.0,825.8 794,842.8 Q762,870 730,842.8 Q746.0,825.8 762,802 Z" fill="url(#gB)" opacity="0.8"/><path d="M762,802 Q778.0,825.8 794,842.8 Q762,870 730,842.8 Q746.0,825.8 762,802 Z" fill="url(#gB)" opacity="0.8"/>
<circle cx="422" cy="452" r="40" fill="url(#gC)"/><circle cx="874" cy="452" r="40" fill="url(#gC)"/><circle cx="142" cy="800" r="25" fill="url(#gH)"/><circle cx="1151" cy="800" r="25" fill="url(#gH)"/>
</g>
<g transform="translate(150,290) scale(0.20818)">
<ellipse cx="320" cy="226" rx="46" ry="33" fill="url(#gR)" opacity="0.66"/><ellipse cx="320" cy="226" rx="46" ry="33" fill="url(#gR)" opacity="0.66"/><ellipse cx="970" cy="226" rx="46" ry="33" fill="url(#gB)" opacity="0.66"/><ellipse cx="970" cy="226" rx="46" ry="33" fill="url(#gB)" opacity="0.66"/><ellipse cx="318" cy="550" rx="53" ry="39" fill="url(#gR)" opacity="0.66"/><ellipse cx="318" cy="550" rx="53" ry="39" fill="url(#gR)" opacity="0.66"/><ellipse cx="975" cy="550" rx="53" ry="39" fill="url(#gB)" opacity="0.66"/><ellipse cx="975" cy="550" rx="53" ry="39" fill="url(#gB)" opacity="0.66"/><ellipse cx="527" cy="410" rx="56" ry="50" fill="url(#gB)" opacity="0.66"/><ellipse cx="527" cy="410" rx="56" ry="50" fill="url(#gB)" opacity="0.66"/><ellipse cx="762" cy="410" rx="56" ry="50" fill="url(#gR)" opacity="0.66"/><ellipse cx="762" cy="410" rx="56" ry="50" fill="url(#gR)" opacity="0.66"/><ellipse cx="318" cy="122" rx="49" ry="42" fill="url(#gB)" opacity="0.72"/><ellipse cx="975" cy="122" rx="49" ry="42" fill="url(#gR)" opacity="0.72"/><ellipse cx="310" cy="440" rx="50" ry="38" fill="url(#gB)" opacity="0.72"/><ellipse cx="980" cy="440" rx="50" ry="38" fill="url(#gR)" opacity="0.72"/><ellipse cx="525" cy="282" rx="56" ry="50" fill="url(#gR)" opacity="0.72"/><ellipse cx="765" cy="282" rx="56" ry="50" fill="url(#gB)" opacity="0.72"/><ellipse cx="472" cy="850" rx="108" ry="114" fill="url(#gR)" opacity="0.66"/><ellipse cx="472" cy="850" rx="108" ry="114" fill="url(#gR)" opacity="0.66"/><ellipse cx="820" cy="850" rx="108" ry="114" fill="url(#gB)" opacity="0.66"/><ellipse cx="820" cy="850" rx="108" ry="114" fill="url(#gB)" opacity="0.66"/><ellipse cx="188" cy="835" rx="110" ry="93" fill="url(#gB)" opacity="0.66"/><ellipse cx="188" cy="835" rx="110" ry="93" fill="url(#gB)" opacity="0.66"/><ellipse cx="1105" cy="835" rx="110" ry="93" fill="url(#gR)" opacity="0.66"/><ellipse cx="1105" cy="835" rx="110" ry="93" fill="url(#gR)" opacity="0.66"/><path d="M520,545 C570,545 595,590 590,640 C585,700 600,760 585,810 C570,850 520,850 490,820 C440,790 380,760 375,690 C370,610 440,545 520,545 Z" fill="url(#gB)" opacity="0.72"/><path d="M772,545 C722,545 697,590 702,640 C707,700 692,760 707,810 C722,850 772,850 802,820 C852,790 912,760 917,690 C922,610 852,545 772,545 Z" fill="url(#gR)" opacity="0.72"/><ellipse cx="212" cy="690" rx="88" ry="90" fill="url(#gR)" opacity="0.72" transform="rotate(-15 212 690)"/><ellipse cx="1083" cy="690" rx="88" ry="90" fill="url(#gB)" opacity="0.72" transform="rotate(15 1083 690)"/>
<line x1="318.0" y1="175.0" x2="369.0" y2="209.0" stroke="#7582ac" stroke-width="27"/><line x1="318.0" y1="175.0" x2="369.0" y2="209.0" stroke="#a2afd4" stroke-width="18.9"/><line x1="318.0" y1="175.0" x2="369.0" y2="209.0" stroke="#d4dbf0" stroke-width="7.6"/><line x1="369.0" y1="209.0" x2="420.0" y2="243.0" stroke="#6b4228" stroke-width="27"/><line x1="369.0" y1="209.0" x2="420.0" y2="243.0" stroke="#98684a" stroke-width="18.9"/><line x1="369.0" y1="209.0" x2="420.0" y2="243.0" stroke="#caa686" stroke-width="7.6"/><line x1="972.0" y1="173.0" x2="921.0" y2="208.0" stroke="#7582ac" stroke-width="27"/><line x1="972.0" y1="173.0" x2="921.0" y2="208.0" stroke="#a2afd4" stroke-width="18.9"/><line x1="972.0" y1="173.0" x2="921.0" y2="208.0" stroke="#d4dbf0" stroke-width="7.6"/><line x1="921.0" y1="208.0" x2="870.0" y2="243.0" stroke="#6b4228" stroke-width="27"/><line x1="921.0" y1="208.0" x2="870.0" y2="243.0" stroke="#98684a" stroke-width="18.9"/><line x1="921.0" y1="208.0" x2="870.0" y2="243.0" stroke="#caa686" stroke-width="7.6"/><line x1="312.0" y1="497.0" x2="365.0" y2="463.5" stroke="#7582ac" stroke-width="27"/><line x1="312.0" y1="497.0" x2="365.0" y2="463.5" stroke="#a2afd4" stroke-width="18.9"/><line x1="312.0" y1="497.0" x2="365.0" y2="463.5" stroke="#d4dbf0" stroke-width="7.6"/><line x1="365.0" y1="463.5" x2="418.0" y2="430.0" stroke="#6b4228" stroke-width="27"/><line x1="365.0" y1="463.5" x2="418.0" y2="430.0" stroke="#98684a" stroke-width="18.9"/><line x1="365.0" y1="463.5" x2="418.0" y2="430.0" stroke="#caa686" stroke-width="7.6"/><line x1="978.0" y1="497.0" x2="925.0" y2="463.5" stroke="#7582ac" stroke-width="27"/><line x1="978.0" y1="497.0" x2="925.0" y2="463.5" stroke="#a2afd4" stroke-width="18.9"/><line x1="978.0" y1="497.0" x2="925.0" y2="463.5" stroke="#d4dbf0" stroke-width="7.6"/><line x1="925.0" y1="463.5" x2="872.0" y2="430.0" stroke="#6b4228" stroke-width="27"/><line x1="925.0" y1="463.5" x2="872.0" y2="430.0" stroke="#98684a" stroke-width="18.9"/><line x1="925.0" y1="463.5" x2="872.0" y2="430.0" stroke="#caa686" stroke-width="7.6"/><line x1="420.0" y1="243.0" x2="540.0" y2="345.0" stroke="#6b4228" stroke-width="30"/><line x1="420.0" y1="243.0" x2="540.0" y2="345.0" stroke="#98684a" stroke-width="21.0"/><line x1="420.0" y1="243.0" x2="540.0" y2="345.0" stroke="#caa686" stroke-width="8.4"/><line x1="418.0" y1="430.0" x2="540.0" y2="345.0" stroke="#6b4228" stroke-width="30"/><line x1="418.0" y1="430.0" x2="540.0" y2="345.0" stroke="#98684a" stroke-width="21.0"/><line x1="418.0" y1="430.0" x2="540.0" y2="345.0" stroke="#caa686" stroke-width="8.4"/><line x1="870.0" y1="243.0" x2="752.0" y2="345.0" stroke="#6b4228" stroke-width="30"/><line x1="870.0" y1="243.0" x2="752.0" y2="345.0" stroke="#98684a" stroke-width="21.0"/><line x1="870.0" y1="243.0" x2="752.0" y2="345.0" stroke="#caa686" stroke-width="8.4"/><line x1="872.0" y1="430.0" x2="752.0" y2="345.0" stroke="#6b4228" stroke-width="30"/><line x1="872.0" y1="430.0" x2="752.0" y2="345.0" stroke="#98684a" stroke-width="21.0"/><line x1="872.0" y1="430.0" x2="752.0" y2="345.0" stroke="#caa686" stroke-width="8.4"/><line x1="540.0" y1="345.0" x2="752.0" y2="345.0" stroke="#6b4228" stroke-width="30"/><line x1="540.0" y1="345.0" x2="752.0" y2="345.0" stroke="#98684a" stroke-width="21.0"/><line x1="540.0" y1="345.0" x2="752.0" y2="345.0" stroke="#caa686" stroke-width="8.4"/><circle cx="318" cy="175" r="42" fill="url(#gN)"/><circle cx="972" cy="173" r="42" fill="url(#gN)"/><circle cx="312" cy="497" r="42" fill="url(#gN)"/><circle cx="978" cy="497" r="42" fill="url(#gN)"/><circle cx="420" cy="243" r="45" fill="url(#gC)"/><circle cx="870" cy="243" r="45" fill="url(#gC)"/><circle cx="418" cy="430" r="45" fill="url(#gC)"/><circle cx="872" cy="430" r="45" fill="url(#gC)"/><circle cx="540" cy="345" r="45" fill="url(#gC)"/><circle cx="752" cy="345" r="45" fill="url(#gC)"/><line x1="452.0" y1="578.0" x2="496.0" y2="620.0" stroke="#a8827a" stroke-width="25"/><line x1="452.0" y1="578.0" x2="496.0" y2="620.0" stroke="#d8b0a8" stroke-width="17.5"/><line x1="452.0" y1="578.0" x2="496.0" y2="620.0" stroke="#f4dcd8" stroke-width="7.0"/><line x1="496.0" y1="620.0" x2="540.0" y2="662.0" stroke="#6b4228" stroke-width="25"/><line x1="496.0" y1="620.0" x2="540.0" y2="662.0" stroke="#98684a" stroke-width="17.5"/><line x1="496.0" y1="620.0" x2="540.0" y2="662.0" stroke="#caa686" stroke-width="7.0"/><line x1="842.0" y1="578.0" x2="797.0" y2="620.0" stroke="#a8827a" stroke-width="25"/><line x1="842.0" y1="578.0" x2="797.0" y2="620.0" stroke="#d8b0a8" stroke-width="17.5"/><line x1="842.0" y1="578.0" x2="797.0" y2="620.0" stroke="#f4dcd8" stroke-width="7.0"/><line x1="797.0" y1="620.0" x2="752.0" y2="662.0" stroke="#6b4228" stroke-width="25"/><line x1="797.0" y1="620.0" x2="752.0" y2="662.0" stroke="#98684a" stroke-width="17.5"/><line x1="797.0" y1="620.0" x2="752.0" y2="662.0" stroke="#caa686" stroke-width="7.0"/><line x1="455.0" y1="923.0" x2="497.5" y2="892.5" stroke="#a8827a" stroke-width="25"/><line x1="455.0" y1="923.0" x2="497.5" y2="892.5" stroke="#d8b0a8" stroke-width="17.5"/><line x1="455.0" y1="923.0" x2="497.5" y2="892.5" stroke="#f4dcd8" stroke-width="7.0"/><line x1="497.5" y1="892.5" x2="540.0" y2="862.0" stroke="#6b4228" stroke-width="25"/><line x1="497.5" y1="892.5" x2="540.0" y2="862.0" stroke="#98684a" stroke-width="17.5"/><line x1="497.5" y1="892.5" x2="540.0" y2="862.0" stroke="#caa686" stroke-width="7.0"/><line x1="838.0" y1="923.0" x2="795.0" y2="892.5" stroke="#a8827a" stroke-width="25"/><line x1="838.0" y1="923.0" x2="795.0" y2="892.5" stroke="#d8b0a8" stroke-width="17.5"/><line x1="838.0" y1="923.0" x2="795.0" y2="892.5" stroke="#f4dcd8" stroke-width="7.0"/><line x1="795.0" y1="892.5" x2="752.0" y2="862.0" stroke="#6b4228" stroke-width="25"/><line x1="795.0" y1="892.5" x2="752.0" y2="862.0" stroke="#98684a" stroke-width="17.5"/><line x1="795.0" y1="892.5" x2="752.0" y2="862.0" stroke="#caa686" stroke-width="7.0"/><line x1="138.0" y1="645.0" x2="176.5" y2="704.5" stroke="#a8827a" stroke-width="25"/><line x1="138.0" y1="645.0" x2="176.5" y2="704.5" stroke="#d8b0a8" stroke-width="17.5"/><line x1="138.0" y1="645.0" x2="176.5" y2="704.5" stroke="#f4dcd8" stroke-width="7.0"/><line x1="176.5" y1="704.5" x2="215.0" y2="764.0" stroke="#7582ac" stroke-width="25"/><line x1="176.5" y1="704.5" x2="215.0" y2="764.0" stroke="#a2afd4" stroke-width="17.5"/><line x1="176.5" y1="704.5" x2="215.0" y2="764.0" stroke="#d4dbf0" stroke-width="7.0"/><line x1="140.0" y1="780.0" x2="177.5" y2="772.0" stroke="#a8827a" stroke-width="25"/><line x1="140.0" y1="780.0" x2="177.5" y2="772.0" stroke="#d8b0a8" stroke-width="17.5"/><line x1="140.0" y1="780.0" x2="177.5" y2="772.0" stroke="#f4dcd8" stroke-width="7.0"/><line x1="177.5" y1="772.0" x2="215.0" y2="764.0" stroke="#7582ac" stroke-width="25"/><line x1="177.5" y1="772.0" x2="215.0" y2="764.0" stroke="#a2afd4" stroke-width="17.5"/><line x1="177.5" y1="772.0" x2="215.0" y2="764.0" stroke="#d4dbf0" stroke-width="7.0"/><line x1="1158.0" y1="645.0" x2="1119.0" y2="704.5" stroke="#a8827a" stroke-width="25"/><line x1="1158.0" y1="645.0" x2="1119.0" y2="704.5" stroke="#d8b0a8" stroke-width="17.5"/><line x1="1158.0" y1="645.0" x2="1119.0" y2="704.5" stroke="#f4dcd8" stroke-width="7.0"/><line x1="1119.0" y1="704.5" x2="1080.0" y2="764.0" stroke="#7582ac" stroke-width="25"/><line x1="1119.0" y1="704.5" x2="1080.0" y2="764.0" stroke="#a2afd4" stroke-width="17.5"/><line x1="1119.0" y1="704.5" x2="1080.0" y2="764.0" stroke="#d4dbf0" stroke-width="7.0"/><line x1="1152.0" y1="780.0" x2="1116.0" y2="772.0" stroke="#a8827a" stroke-width="25"/><line x1="1152.0" y1="780.0" x2="1116.0" y2="772.0" stroke="#d8b0a8" stroke-width="17.5"/><line x1="1152.0" y1="780.0" x2="1116.0" y2="772.0" stroke="#f4dcd8" stroke-width="7.0"/><line x1="1116.0" y1="772.0" x2="1080.0" y2="764.0" stroke="#7582ac" stroke-width="25"/><line x1="1116.0" y1="772.0" x2="1080.0" y2="764.0" stroke="#a2afd4" stroke-width="17.5"/><line x1="1116.0" y1="772.0" x2="1080.0" y2="764.0" stroke="#d4dbf0" stroke-width="7.0"/><line x1="215.0" y1="764.0" x2="326.8" y2="764.5" stroke="#7582ac" stroke-width="27"/><line x1="215.0" y1="764.0" x2="326.8" y2="764.5" stroke="#a2afd4" stroke-width="18.9"/><line x1="215.0" y1="764.0" x2="326.8" y2="764.5" stroke="#d4dbf0" stroke-width="7.6"/><line x1="326.8" y1="764.5" x2="430.0" y2="765.0" stroke="#6b4228" stroke-width="27"/><line x1="326.8" y1="764.5" x2="430.0" y2="765.0" stroke="#98684a" stroke-width="18.9"/><line x1="326.8" y1="764.5" x2="430.0" y2="765.0" stroke="#caa686" stroke-width="7.6"/><line x1="1080.0" y1="764.0" x2="968.2" y2="764.5" stroke="#7582ac" stroke-width="27"/><line x1="1080.0" y1="764.0" x2="968.2" y2="764.5" stroke="#a2afd4" stroke-width="18.9"/><line x1="1080.0" y1="764.0" x2="968.2" y2="764.5" stroke="#d4dbf0" stroke-width="7.6"/><line x1="968.2" y1="764.5" x2="865.0" y2="765.0" stroke="#6b4228" stroke-width="27"/><line x1="968.2" y1="764.5" x2="865.0" y2="765.0" stroke="#98684a" stroke-width="18.9"/><line x1="968.2" y1="764.5" x2="865.0" y2="765.0" stroke="#caa686" stroke-width="7.6"/><line x1="540.0" y1="662.0" x2="752.0" y2="662.0" stroke="#6b4228" stroke-width="30"/><line x1="540.0" y1="662.0" x2="752.0" y2="662.0" stroke="#98684a" stroke-width="21.0"/><line x1="540.0" y1="662.0" x2="752.0" y2="662.0" stroke="#caa686" stroke-width="8.4"/><line x1="540.0" y1="662.0" x2="430.0" y2="765.0" stroke="#6b4228" stroke-width="30"/><line x1="540.0" y1="662.0" x2="430.0" y2="765.0" stroke="#98684a" stroke-width="21.0"/><line x1="540.0" y1="662.0" x2="430.0" y2="765.0" stroke="#caa686" stroke-width="8.4"/><line x1="752.0" y1="662.0" x2="865.0" y2="765.0" stroke="#6b4228" stroke-width="30"/><line x1="752.0" y1="662.0" x2="865.0" y2="765.0" stroke="#98684a" stroke-width="21.0"/><line x1="752.0" y1="662.0" x2="865.0" y2="765.0" stroke="#caa686" stroke-width="8.4"/><line x1="430.0" y1="765.0" x2="540.0" y2="862.0" stroke="#6b4228" stroke-width="30"/><line x1="430.0" y1="765.0" x2="540.0" y2="862.0" stroke="#98684a" stroke-width="21.0"/><line x1="430.0" y1="765.0" x2="540.0" y2="862.0" stroke="#caa686" stroke-width="8.4"/><line x1="865.0" y1="765.0" x2="752.0" y2="862.0" stroke="#6b4228" stroke-width="30"/><line x1="865.0" y1="765.0" x2="752.0" y2="862.0" stroke="#98684a" stroke-width="21.0"/><line x1="865.0" y1="765.0" x2="752.0" y2="862.0" stroke="#caa686" stroke-width="8.4"/><line x1="540.0" y1="862.0" x2="752.0" y2="862.0" stroke="#6b4228" stroke-width="30"/><line x1="540.0" y1="862.0" x2="752.0" y2="862.0" stroke="#98684a" stroke-width="21.0"/><line x1="540.0" y1="862.0" x2="752.0" y2="862.0" stroke="#caa686" stroke-width="8.4"/><circle cx="452" cy="578" r="25" fill="url(#gH)"/><circle cx="842" cy="578" r="25" fill="url(#gH)"/><circle cx="455" cy="923" r="25" fill="url(#gH)"/><circle cx="838" cy="923" r="25" fill="url(#gH)"/><circle cx="138" cy="645" r="25" fill="url(#gH)"/><circle cx="140" cy="780" r="25" fill="url(#gH)"/><circle cx="1158" cy="645" r="25" fill="url(#gH)"/><circle cx="1152" cy="780" r="25" fill="url(#gH)"/><circle cx="215" cy="764" r="41" fill="url(#gN)"/><circle cx="1080" cy="764" r="41" fill="url(#gN)"/><circle cx="540" cy="662" r="45" fill="url(#gC)"/><circle cx="752" cy="662" r="45" fill="url(#gC)"/><circle cx="430" cy="765" r="45" fill="url(#gC)"/><circle cx="865" cy="765" r="45" fill="url(#gC)"/><circle cx="540" cy="862" r="45" fill="url(#gC)"/><circle cx="752" cy="862" r="45" fill="url(#gC)"/>
<ellipse cx="318" cy="122" rx="49" ry="42" fill="url(#gB)" opacity="0.7"/><ellipse cx="975" cy="122" rx="49" ry="42" fill="url(#gR)" opacity="0.7"/><ellipse cx="310" cy="440" rx="50" ry="38" fill="url(#gB)" opacity="0.7"/><ellipse cx="980" cy="440" rx="50" ry="38" fill="url(#gR)" opacity="0.7"/><ellipse cx="525" cy="282" rx="56" ry="50" fill="url(#gR)" opacity="0.7"/><ellipse cx="765" cy="282" rx="56" ry="50" fill="url(#gB)" opacity="0.7"/><path d="M520,545 C570,545 595,590 590,640 C585,700 600,760 585,810 C570,850 520,850 490,820 C440,790 380,760 375,690 C370,610 440,545 520,545 Z" fill="url(#gB)" opacity="0.7"/><path d="M772,545 C722,545 697,590 702,640 C707,700 692,760 707,810 C722,850 772,850 802,820 C852,790 912,760 917,690 C922,610 852,545 772,545 Z" fill="url(#gR)" opacity="0.7"/><ellipse cx="212" cy="690" rx="88" ry="90" fill="url(#gR)" opacity="0.7" transform="rotate(-15 212 690)"/><ellipse cx="1083" cy="690" rx="88" ry="90" fill="url(#gB)" opacity="0.7" transform="rotate(15 1083 690)"/><ellipse cx="492" cy="745" rx="62" ry="95" fill="url(#gBd)" transform="rotate(-28 492 745)"/><ellipse cx="800" cy="745" rx="62" ry="95" fill="url(#gRd)" transform="rotate(28 800 745)"/><ellipse cx="230" cy="705" rx="45" ry="70" fill="url(#gRd)" transform="rotate(-20 230 705)"/><ellipse cx="1066" cy="705" rx="45" ry="70" fill="url(#gBd)" transform="rotate(20 1066 705)"/>
<circle cx="140" cy="780" r="25" fill="url(#gH)"/><circle cx="1152" cy="780" r="25" fill="url(#gH)"/><circle cx="455" cy="923" r="25" fill="url(#gH)"/><circle cx="838" cy="923" r="25" fill="url(#gH)"/><circle cx="540" cy="862" r="45" fill="url(#gC)"/><circle cx="752" cy="862" r="45" fill="url(#gC)"/><line x1="540.0" y1="862.0" x2="752.0" y2="862.0" stroke="#6b4228" stroke-width="30"/><line x1="540.0" y1="862.0" x2="752.0" y2="862.0" stroke="#98684a" stroke-width="21.0"/><line x1="540.0" y1="862.0" x2="752.0" y2="862.0" stroke="#caa686" stroke-width="8.4"/><circle cx="540" cy="862" r="45" fill="url(#gC)"/><circle cx="752" cy="862" r="45" fill="url(#gC)"/><ellipse cx="540" cy="812" rx="44" ry="30" fill="url(#gB)" opacity="0.5"/><ellipse cx="540" cy="812" rx="44" ry="30" fill="url(#gB)" opacity="0.5"/><ellipse cx="752" cy="812" rx="44" ry="30" fill="url(#gR)" opacity="0.5"/><ellipse cx="752" cy="812" rx="44" ry="30" fill="url(#gR)" opacity="0.5"/>
</g>
<g transform="translate(150,630) scale(0.20818)">
<ellipse cx="700" cy="370" rx="56" ry="50" fill="url(#gR)" opacity="0.66"/><ellipse cx="700" cy="370" rx="56" ry="50" fill="url(#gR)" opacity="0.66"/><ellipse cx="832" cy="490" rx="106" ry="106" fill="url(#gB)" opacity="0.66"/><ellipse cx="832" cy="490" rx="106" ry="106" fill="url(#gB)" opacity="0.66"/><ellipse cx="850" cy="285" rx="142" ry="132" fill="url(#gR)" opacity="0.72"/><ellipse cx="992" cy="385" rx="132" ry="106" fill="url(#gB)" opacity="0.78" transform="rotate(-8 992 385)"/>
<line x1="320.0" y1="130.0" x2="370.0" y2="168.5" stroke="#7582ac" stroke-width="27"/><line x1="320.0" y1="130.0" x2="370.0" y2="168.5" stroke="#a2afd4" stroke-width="18.9"/><line x1="320.0" y1="130.0" x2="370.0" y2="168.5" stroke="#d4dbf0" stroke-width="7.6"/><line x1="370.0" y1="168.5" x2="420.0" y2="207.0" stroke="#6b4228" stroke-width="27"/><line x1="370.0" y1="168.5" x2="420.0" y2="207.0" stroke="#98684a" stroke-width="18.9"/><line x1="370.0" y1="168.5" x2="420.0" y2="207.0" stroke="#caa686" stroke-width="7.6"/><line x1="972.0" y1="130.0" x2="920.0" y2="168.5" stroke="#7582ac" stroke-width="27"/><line x1="972.0" y1="130.0" x2="920.0" y2="168.5" stroke="#a2afd4" stroke-width="18.9"/><line x1="972.0" y1="130.0" x2="920.0" y2="168.5" stroke="#d4dbf0" stroke-width="7.6"/><line x1="920.0" y1="168.5" x2="868.0" y2="207.0" stroke="#6b4228" stroke-width="27"/><line x1="920.0" y1="168.5" x2="868.0" y2="207.0" stroke="#98684a" stroke-width="18.9"/><line x1="920.0" y1="168.5" x2="868.0" y2="207.0" stroke="#caa686" stroke-width="7.6"/><line x1="313.0" y1="460.0" x2="365.5" y2="425.0" stroke="#7582ac" stroke-width="27"/><line x1="313.0" y1="460.0" x2="365.5" y2="425.0" stroke="#a2afd4" stroke-width="18.9"/><line x1="313.0" y1="460.0" x2="365.5" y2="425.0" stroke="#d4dbf0" stroke-width="7.6"/><line x1="365.5" y1="425.0" x2="418.0" y2="390.0" stroke="#6b4228" stroke-width="27"/><line x1="365.5" y1="425.0" x2="418.0" y2="390.0" stroke="#98684a" stroke-width="18.9"/><line x1="365.5" y1="425.0" x2="418.0" y2="390.0" stroke="#caa686" stroke-width="7.6"/><line x1="978.0" y1="455.0" x2="919.0" y2="418.5" stroke="#7582ac" stroke-width="27"/><line x1="978.0" y1="455.0" x2="919.0" y2="418.5" stroke="#a2afd4" stroke-width="18.9"/><line x1="978.0" y1="455.0" x2="919.0" y2="418.5" stroke="#d4dbf0" stroke-width="7.6"/><line x1="919.0" y1="418.5" x2="860.0" y2="382.0" stroke="#6b4228" stroke-width="27"/><line x1="919.0" y1="418.5" x2="860.0" y2="382.0" stroke="#98684a" stroke-width="18.9"/><line x1="919.0" y1="418.5" x2="860.0" y2="382.0" stroke="#caa686" stroke-width="7.6"/><line x1="420.0" y1="207.0" x2="540.0" y2="300.0" stroke="#6b4228" stroke-width="30"/><line x1="420.0" y1="207.0" x2="540.0" y2="300.0" stroke="#98684a" stroke-width="21.0"/><line x1="420.0" y1="207.0" x2="540.0" y2="300.0" stroke="#caa686" stroke-width="8.4"/><line x1="418.0" y1="390.0" x2="540.0" y2="300.0" stroke="#6b4228" stroke-width="30"/><line x1="418.0" y1="390.0" x2="540.0" y2="300.0" stroke="#98684a" stroke-width="21.0"/><line x1="418.0" y1="390.0" x2="540.0" y2="300.0" stroke="#caa686" stroke-width="8.4"/><line x1="868.0" y1="207.0" x2="752.0" y2="303.0" stroke="#6b4228" stroke-width="30"/><line x1="868.0" y1="207.0" x2="752.0" y2="303.0" stroke="#98684a" stroke-width="21.0"/><line x1="868.0" y1="207.0" x2="752.0" y2="303.0" stroke="#caa686" stroke-width="8.4"/><line x1="860.0" y1="382.0" x2="752.0" y2="303.0" stroke="#6b4228" stroke-width="30"/><line x1="860.0" y1="382.0" x2="752.0" y2="303.0" stroke="#98684a" stroke-width="21.0"/><line x1="860.0" y1="382.0" x2="752.0" y2="303.0" stroke="#caa686" stroke-width="8.4"/><line x1="540.0" y1="300.0" x2="752.0" y2="303.0" stroke="#6b4228" stroke-width="30"/><line x1="540.0" y1="300.0" x2="752.0" y2="303.0" stroke="#98684a" stroke-width="21.0"/><line x1="540.0" y1="300.0" x2="752.0" y2="303.0" stroke="#caa686" stroke-width="8.4"/><circle cx="320" cy="130" r="45" fill="url(#gN)"/><circle cx="972" cy="130" r="45" fill="url(#gN)"/><circle cx="313" cy="460" r="45" fill="url(#gN)"/><circle cx="978" cy="455" r="45" fill="url(#gN)"/><circle cx="420" cy="207" r="46" fill="url(#gC)"/><circle cx="868" cy="207" r="46" fill="url(#gC)"/><circle cx="418" cy="390" r="46" fill="url(#gC)"/><circle cx="860" cy="382" r="46" fill="url(#gC)"/><circle cx="540" cy="300" r="46" fill="url(#gC)"/><circle cx="752" cy="303" r="46" fill="url(#gC)"/><line x1="458.0" y1="550.0" x2="499.0" y2="586.0" stroke="#a8827a" stroke-width="25"/><line x1="458.0" y1="550.0" x2="499.0" y2="586.0" stroke="#d8b0a8" stroke-width="17.5"/><line x1="458.0" y1="550.0" x2="499.0" y2="586.0" stroke="#f4dcd8" stroke-width="7.0"/><line x1="499.0" y1="586.0" x2="540.0" y2="622.0" stroke="#6b4228" stroke-width="25"/><line x1="499.0" y1="586.0" x2="540.0" y2="622.0" stroke="#98684a" stroke-width="17.5"/><line x1="499.0" y1="586.0" x2="540.0" y2="622.0" stroke="#caa686" stroke-width="7.0"/><line x1="457.0" y1="885.0" x2="498.5" y2="847.5" stroke="#a8827a" stroke-width="25"/><line x1="457.0" y1="885.0" x2="498.5" y2="847.5" stroke="#d8b0a8" stroke-width="17.5"/><line x1="457.0" y1="885.0" x2="498.5" y2="847.5" stroke="#f4dcd8" stroke-width="7.0"/><line x1="498.5" y1="847.5" x2="540.0" y2="810.0" stroke="#6b4228" stroke-width="25"/><line x1="498.5" y1="847.5" x2="540.0" y2="810.0" stroke="#98684a" stroke-width="17.5"/><line x1="498.5" y1="847.5" x2="540.0" y2="810.0" stroke="#caa686" stroke-width="7.0"/><line x1="838.0" y1="883.0" x2="795.0" y2="846.5" stroke="#a8827a" stroke-width="25"/><line x1="838.0" y1="883.0" x2="795.0" y2="846.5" stroke="#d8b0a8" stroke-width="17.5"/><line x1="838.0" y1="883.0" x2="795.0" y2="846.5" stroke="#f4dcd8" stroke-width="7.0"/><line x1="795.0" y1="846.5" x2="752.0" y2="810.0" stroke="#6b4228" stroke-width="25"/><line x1="795.0" y1="846.5" x2="752.0" y2="810.0" stroke="#98684a" stroke-width="17.5"/><line x1="795.0" y1="846.5" x2="752.0" y2="810.0" stroke="#caa686" stroke-width="7.0"/><line x1="147.0" y1="608.0" x2="180.0" y2="663.0" stroke="#a8827a" stroke-width="25"/><line x1="147.0" y1="608.0" x2="180.0" y2="663.0" stroke="#d8b0a8" stroke-width="17.5"/><line x1="147.0" y1="608.0" x2="180.0" y2="663.0" stroke="#f4dcd8" stroke-width="7.0"/><line x1="180.0" y1="663.0" x2="213.0" y2="718.0" stroke="#7582ac" stroke-width="25"/><line x1="180.0" y1="663.0" x2="213.0" y2="718.0" stroke="#a2afd4" stroke-width="17.5"/><line x1="180.0" y1="663.0" x2="213.0" y2="718.0" stroke="#d4dbf0" stroke-width="7.0"/><line x1="142.0" y1="742.0" x2="177.5" y2="730.0" stroke="#a8827a" stroke-width="25"/><line x1="142.0" y1="742.0" x2="177.5" y2="730.0" stroke="#d8b0a8" stroke-width="17.5"/><line x1="142.0" y1="742.0" x2="177.5" y2="730.0" stroke="#f4dcd8" stroke-width="7.0"/><line x1="177.5" y1="730.0" x2="213.0" y2="718.0" stroke="#7582ac" stroke-width="25"/><line x1="177.5" y1="730.0" x2="213.0" y2="718.0" stroke="#a2afd4" stroke-width="17.5"/><line x1="177.5" y1="730.0" x2="213.0" y2="718.0" stroke="#d4dbf0" stroke-width="7.0"/><line x1="1150.0" y1="608.0" x2="1114.0" y2="663.0" stroke="#a8827a" stroke-width="25"/><line x1="1150.0" y1="608.0" x2="1114.0" y2="663.0" stroke="#d8b0a8" stroke-width="17.5"/><line x1="1150.0" y1="608.0" x2="1114.0" y2="663.0" stroke="#f4dcd8" stroke-width="7.0"/><line x1="1114.0" y1="663.0" x2="1078.0" y2="718.0" stroke="#7582ac" stroke-width="25"/><line x1="1114.0" y1="663.0" x2="1078.0" y2="718.0" stroke="#a2afd4" stroke-width="17.5"/><line x1="1114.0" y1="663.0" x2="1078.0" y2="718.0" stroke="#d4dbf0" stroke-width="7.0"/><line x1="1150.0" y1="740.0" x2="1114.0" y2="729.0" stroke="#a8827a" stroke-width="25"/><line x1="1150.0" y1="740.0" x2="1114.0" y2="729.0" stroke="#d8b0a8" stroke-width="17.5"/><line x1="1150.0" y1="740.0" x2="1114.0" y2="729.0" stroke="#f4dcd8" stroke-width="7.0"/><line x1="1114.0" y1="729.0" x2="1078.0" y2="718.0" stroke="#7582ac" stroke-width="25"/><line x1="1114.0" y1="729.0" x2="1078.0" y2="718.0" stroke="#a2afd4" stroke-width="17.5"/><line x1="1114.0" y1="729.0" x2="1078.0" y2="718.0" stroke="#d4dbf0" stroke-width="7.0"/><line x1="213.0" y1="718.0" x2="324.3" y2="715.4" stroke="#7582ac" stroke-width="27"/><line x1="213.0" y1="718.0" x2="324.3" y2="715.4" stroke="#a2afd4" stroke-width="18.9"/><line x1="213.0" y1="718.0" x2="324.3" y2="715.4" stroke="#d4dbf0" stroke-width="7.6"/><line x1="324.3" y1="715.4" x2="427.0" y2="713.0" stroke="#6b4228" stroke-width="27"/><line x1="324.3" y1="715.4" x2="427.0" y2="713.0" stroke="#98684a" stroke-width="18.9"/><line x1="324.3" y1="715.4" x2="427.0" y2="713.0" stroke="#caa686" stroke-width="7.6"/><line x1="1078.0" y1="718.0" x2="967.2" y2="715.4" stroke="#7582ac" stroke-width="27"/><line x1="1078.0" y1="718.0" x2="967.2" y2="715.4" stroke="#a2afd4" stroke-width="18.9"/><line x1="1078.0" y1="718.0" x2="967.2" y2="715.4" stroke="#d4dbf0" stroke-width="7.6"/><line x1="967.2" y1="715.4" x2="865.0" y2="713.0" stroke="#6b4228" stroke-width="27"/><line x1="967.2" y1="715.4" x2="865.0" y2="713.0" stroke="#98684a" stroke-width="18.9"/><line x1="967.2" y1="715.4" x2="865.0" y2="713.0" stroke="#caa686" stroke-width="7.6"/><line x1="540.0" y1="622.0" x2="752.0" y2="622.0" stroke="#6b4228" stroke-width="30"/><line x1="540.0" y1="622.0" x2="752.0" y2="622.0" stroke="#98684a" stroke-width="21.0"/><line x1="540.0" y1="622.0" x2="752.0" y2="622.0" stroke="#caa686" stroke-width="8.4"/><line x1="540.0" y1="622.0" x2="427.0" y2="713.0" stroke="#6b4228" stroke-width="30"/><line x1="540.0" y1="622.0" x2="427.0" y2="713.0" stroke="#98684a" stroke-width="21.0"/><line x1="540.0" y1="622.0" x2="427.0" y2="713.0" stroke="#caa686" stroke-width="8.4"/><line x1="752.0" y1="622.0" x2="865.0" y2="713.0" stroke="#6b4228" stroke-width="30"/><line x1="752.0" y1="622.0" x2="865.0" y2="713.0" stroke="#98684a" stroke-width="21.0"/><line x1="752.0" y1="622.0" x2="865.0" y2="713.0" stroke="#caa686" stroke-width="8.4"/><line x1="427.0" y1="713.0" x2="540.0" y2="810.0" stroke="#6b4228" stroke-width="30"/><line x1="427.0" y1="713.0" x2="540.0" y2="810.0" stroke="#98684a" stroke-width="21.0"/><line x1="427.0" y1="713.0" x2="540.0" y2="810.0" stroke="#caa686" stroke-width="8.4"/><line x1="865.0" y1="713.0" x2="752.0" y2="810.0" stroke="#6b4228" stroke-width="30"/><line x1="865.0" y1="713.0" x2="752.0" y2="810.0" stroke="#98684a" stroke-width="21.0"/><line x1="865.0" y1="713.0" x2="752.0" y2="810.0" stroke="#caa686" stroke-width="8.4"/><line x1="540.0" y1="810.0" x2="752.0" y2="810.0" stroke="#6b4228" stroke-width="30"/><line x1="540.0" y1="810.0" x2="752.0" y2="810.0" stroke="#98684a" stroke-width="21.0"/><line x1="540.0" y1="810.0" x2="752.0" y2="810.0" stroke="#caa686" stroke-width="8.4"/><circle cx="458" cy="550" r="25" fill="url(#gH)"/><circle cx="457" cy="885" r="25" fill="url(#gH)"/><circle cx="838" cy="883" r="25" fill="url(#gH)"/><circle cx="147" cy="608" r="25" fill="url(#gH)"/><circle cx="142" cy="742" r="25" fill="url(#gH)"/><circle cx="1150" cy="608" r="25" fill="url(#gH)"/><circle cx="1150" cy="740" r="25" fill="url(#gH)"/><circle cx="213" cy="718" r="41" fill="url(#gN)"/><circle cx="1078" cy="718" r="41" fill="url(#gN)"/><circle cx="540" cy="622" r="45" fill="url(#gC)"/><circle cx="752" cy="622" r="45" fill="url(#gC)"/><circle cx="427" cy="713" r="45" fill="url(#gC)"/><circle cx="865" cy="713" r="45" fill="url(#gC)"/><circle cx="540" cy="810" r="45" fill="url(#gC)"/><circle cx="752" cy="810" r="45" fill="url(#gC)"/>
<path d="M551.7,257.8 C554.7,250.4 577.2,232.9 593.0,220.2 C608.8,207.5 627.5,191.9 646.2,181.8 C664.9,171.8 686.6,162.9 705.3,159.9 C724.0,156.9 746.5,158.9 758.5,164.0 C770.5,169.1 776.4,179.3 777.4,190.6 C778.4,201.9 773.5,218.2 764.4,232.0 C755.3,245.8 736.8,267.4 723.0,273.3 C709.2,279.2 698.4,268.9 681.7,267.4 C665.0,265.9 640.3,265.0 622.6,264.5 C604.9,264.0 587.1,265.6 575.3,264.5 C563.5,263.4 548.8,265.2 551.7,257.8 Z" fill="url(#gB)" opacity="0.62"/><path d="M551.7,257.8 C554.7,250.4 577.2,232.9 593.0,220.2 C608.8,207.5 627.5,191.9 646.2,181.8 C664.9,171.8 686.6,162.9 705.3,159.9 C724.0,156.9 746.5,158.9 758.5,164.0 C770.5,169.1 776.4,179.3 777.4,190.6 C778.4,201.9 773.5,218.2 764.4,232.0 C755.3,245.8 736.8,267.4 723.0,273.3 C709.2,279.2 698.4,268.9 681.7,267.4 C665.0,265.9 640.3,265.0 622.6,264.5 C604.9,264.0 587.1,265.6 575.3,264.5 C563.5,263.4 548.8,265.2 551.7,257.8 Z" fill="url(#gB)" opacity="0.62"/><ellipse cx="850" cy="285" rx="142" ry="132" fill="url(#gR)" opacity="0.7"/><ellipse cx="1008" cy="570" rx="134" ry="118" fill="url(#gR)" opacity="0.66"/><ellipse cx="1008" cy="570" rx="134" ry="118" fill="url(#gR)" opacity="0.66"/><ellipse cx="992" cy="385" rx="132" ry="106" fill="url(#gB)" opacity="0.8" transform="rotate(-8 992 385)"/><ellipse cx="790" cy="300" rx="70" ry="95" fill="url(#gRd)" transform="rotate(-30 790 300)"/><ellipse cx="930" cy="410" rx="60" ry="50" fill="url(#gBd)"/>
<circle cx="978" cy="455" r="42" fill="url(#gN)" opacity="0.38"/>
</g>
<g transform="translate(150,837) scale(0.20818)">
<ellipse cx="320" cy="218" rx="22" ry="14" fill="url(#gR)" opacity="0.66"/><ellipse cx="320" cy="218" rx="22" ry="14" fill="url(#gR)" opacity="0.66"/><ellipse cx="970" cy="224" rx="24" ry="14" fill="url(#gB)" opacity="0.66"/><ellipse cx="970" cy="224" rx="24" ry="14" fill="url(#gB)" opacity="0.66"/><ellipse cx="310" cy="554" rx="22" ry="14" fill="url(#gR)" opacity="0.66"/><ellipse cx="310" cy="554" rx="22" ry="14" fill="url(#gR)" opacity="0.66"/><ellipse cx="978" cy="554" rx="24" ry="16" fill="url(#gB)" opacity="0.66"/><ellipse cx="978" cy="554" rx="24" ry="16" fill="url(#gB)" opacity="0.66"/><ellipse cx="535" cy="412" rx="40" ry="30" fill="url(#gB)" opacity="0.66"/><ellipse cx="535" cy="412" rx="40" ry="30" fill="url(#gB)" opacity="0.66"/><ellipse cx="758" cy="408" rx="28" ry="18" fill="url(#gR)" opacity="0.66"/><ellipse cx="758" cy="408" rx="28" ry="18" fill="url(#gR)" opacity="0.66"/><ellipse cx="430" cy="835" rx="76" ry="58" fill="url(#gR)" opacity="0.66"/><ellipse cx="430" cy="835" rx="76" ry="58" fill="url(#gR)" opacity="0.66"/><path d="M657.0,695.0 C650.7,706.5 653.5,757.5 654.0,793.0 C654.5,828.5 653.7,875.3 660.0,908.0 C666.3,940.7 674.2,969.7 692.0,989.0 C709.8,1008.3 740.2,1021.5 767.0,1024.0 C793.8,1026.5 825.2,1017.5 853.0,1004.0 C880.8,990.5 912.3,966.7 934.0,943.0 C955.7,919.3 974.3,885.0 983.0,862.0 C991.7,839.0 991.2,820.3 986.0,805.0 C980.8,789.7 981.8,775.8 952.0,770.0 C922.2,764.2 850.3,777.7 807.0,770.0 C763.7,762.3 717.0,736.5 692.0,724.0 C667.0,711.5 663.3,683.5 657.0,695.0 Z" fill="url(#gB)" opacity="0.66"/><path d="M657.0,695.0 C650.7,706.5 653.5,757.5 654.0,793.0 C654.5,828.5 653.7,875.3 660.0,908.0 C666.3,940.7 674.2,969.7 692.0,989.0 C709.8,1008.3 740.2,1021.5 767.0,1024.0 C793.8,1026.5 825.2,1017.5 853.0,1004.0 C880.8,990.5 912.3,966.7 934.0,943.0 C955.7,919.3 974.3,885.0 983.0,862.0 C991.7,839.0 991.2,820.3 986.0,805.0 C980.8,789.7 981.8,775.8 952.0,770.0 C922.2,764.2 850.3,777.7 807.0,770.0 C763.7,762.3 717.0,736.5 692.0,724.0 C667.0,711.5 663.3,683.5 657.0,695.0 Z" fill="url(#gB)" opacity="0.66"/><ellipse cx="430" cy="690" rx="76" ry="66" fill="url(#gB)" opacity="0.72"/><path d="M778.0,502.0 C807.8,506.7 868.2,513.3 900.0,533.0 C931.8,552.7 954.2,594.0 969.0,620.0 C983.8,646.0 988.0,669.8 989.0,689.0 C990.0,708.2 986.0,718.7 975.0,735.0 C964.0,751.3 943.3,769.7 923.0,787.0 C902.7,804.3 874.2,826.5 853.0,839.0 C831.8,851.5 813.2,857.7 796.0,862.0 C778.8,866.3 767.3,867.8 750.0,865.0 C732.7,862.2 707.5,855.0 692.0,845.0 C676.5,835.0 663.3,823.3 657.0,805.0 C650.7,786.7 652.0,753.3 654.0,735.0 C656.0,716.7 663.0,705.5 669.0,695.0 C675.0,684.5 690.8,681.7 690.0,672.0 C689.2,662.3 670.3,649.5 664.0,637.0 C657.7,624.5 651.2,613.3 652.0,597.0 C652.8,580.7 657.5,554.3 669.0,539.0 C680.5,523.7 702.8,511.2 721.0,505.0 C739.2,498.8 748.2,497.3 778.0,502.0 Z" fill="url(#gR)" opacity="0.72"/>
<line x1="320.0" y1="175.0" x2="370.0" y2="214.0" stroke="#7582ac" stroke-width="27"/><line x1="320.0" y1="175.0" x2="370.0" y2="214.0" stroke="#a2afd4" stroke-width="18.9"/><line x1="320.0" y1="175.0" x2="370.0" y2="214.0" stroke="#d4dbf0" stroke-width="7.6"/><line x1="370.0" y1="214.0" x2="420.0" y2="253.0" stroke="#6b4228" stroke-width="27"/><line x1="370.0" y1="214.0" x2="420.0" y2="253.0" stroke="#98684a" stroke-width="18.9"/><line x1="370.0" y1="214.0" x2="420.0" y2="253.0" stroke="#caa686" stroke-width="7.6"/><line x1="972.0" y1="175.0" x2="921.0" y2="214.0" stroke="#7582ac" stroke-width="27"/><line x1="972.0" y1="175.0" x2="921.0" y2="214.0" stroke="#a2afd4" stroke-width="18.9"/><line x1="972.0" y1="175.0" x2="921.0" y2="214.0" stroke="#d4dbf0" stroke-width="7.6"/><line x1="921.0" y1="214.0" x2="870.0" y2="253.0" stroke="#6b4228" stroke-width="27"/><line x1="921.0" y1="214.0" x2="870.0" y2="253.0" stroke="#98684a" stroke-width="18.9"/><line x1="921.0" y1="214.0" x2="870.0" y2="253.0" stroke="#caa686" stroke-width="7.6"/><line x1="312.0" y1="505.0" x2="365.0" y2="471.0" stroke="#7582ac" stroke-width="27"/><line x1="312.0" y1="505.0" x2="365.0" y2="471.0" stroke="#a2afd4" stroke-width="18.9"/><line x1="312.0" y1="505.0" x2="365.0" y2="471.0" stroke="#d4dbf0" stroke-width="7.6"/><line x1="365.0" y1="471.0" x2="418.0" y2="437.0" stroke="#6b4228" stroke-width="27"/><line x1="365.0" y1="471.0" x2="418.0" y2="437.0" stroke="#98684a" stroke-width="18.9"/><line x1="365.0" y1="471.0" x2="418.0" y2="437.0" stroke="#caa686" stroke-width="7.6"/><line x1="978.0" y1="505.0" x2="925.0" y2="471.0" stroke="#7582ac" stroke-width="27"/><line x1="978.0" y1="505.0" x2="925.0" y2="471.0" stroke="#a2afd4" stroke-width="18.9"/><line x1="978.0" y1="505.0" x2="925.0" y2="471.0" stroke="#d4dbf0" stroke-width="7.6"/><line x1="925.0" y1="471.0" x2="872.0" y2="437.0" stroke="#6b4228" stroke-width="27"/><line x1="925.0" y1="471.0" x2="872.0" y2="437.0" stroke="#98684a" stroke-width="18.9"/><line x1="925.0" y1="471.0" x2="872.0" y2="437.0" stroke="#caa686" stroke-width="7.6"/><line x1="420.0" y1="253.0" x2="540.0" y2="350.0" stroke="#6b4228" stroke-width="30"/><line x1="420.0" y1="253.0" x2="540.0" y2="350.0" stroke="#98684a" stroke-width="21.0"/><line x1="420.0" y1="253.0" x2="540.0" y2="350.0" stroke="#caa686" stroke-width="8.4"/><line x1="418.0" y1="437.0" x2="540.0" y2="350.0" stroke="#6b4228" stroke-width="30"/><line x1="418.0" y1="437.0" x2="540.0" y2="350.0" stroke="#98684a" stroke-width="21.0"/><line x1="418.0" y1="437.0" x2="540.0" y2="350.0" stroke="#caa686" stroke-width="8.4"/><line x1="870.0" y1="253.0" x2="752.0" y2="350.0" stroke="#6b4228" stroke-width="30"/><line x1="870.0" y1="253.0" x2="752.0" y2="350.0" stroke="#98684a" stroke-width="21.0"/><line x1="870.0" y1="253.0" x2="752.0" y2="350.0" stroke="#caa686" stroke-width="8.4"/><line x1="872.0" y1="437.0" x2="752.0" y2="350.0" stroke="#6b4228" stroke-width="30"/><line x1="872.0" y1="437.0" x2="752.0" y2="350.0" stroke="#98684a" stroke-width="21.0"/><line x1="872.0" y1="437.0" x2="752.0" y2="350.0" stroke="#caa686" stroke-width="8.4"/><line x1="540.0" y1="350.0" x2="752.0" y2="350.0" stroke="#6b4228" stroke-width="30"/><line x1="540.0" y1="350.0" x2="752.0" y2="350.0" stroke="#98684a" stroke-width="21.0"/><line x1="540.0" y1="350.0" x2="752.0" y2="350.0" stroke="#caa686" stroke-width="8.4"/><circle cx="320" cy="175" r="45" fill="url(#gN)"/><circle cx="972" cy="175" r="45" fill="url(#gN)"/><circle cx="312" cy="505" r="45" fill="url(#gN)"/><circle cx="978" cy="505" r="45" fill="url(#gN)"/><circle cx="420" cy="253" r="46" fill="url(#gC)"/><circle cx="870" cy="253" r="46" fill="url(#gC)"/><circle cx="418" cy="437" r="46" fill="url(#gC)"/><circle cx="872" cy="437" r="46" fill="url(#gC)"/><circle cx="540" cy="350" r="46" fill="url(#gC)"/><circle cx="752" cy="350" r="46" fill="url(#gC)"/><line x1="458.0" y1="597.0" x2="499.0" y2="632.5" stroke="#a8827a" stroke-width="25"/><line x1="458.0" y1="597.0" x2="499.0" y2="632.5" stroke="#d8b0a8" stroke-width="17.5"/><line x1="458.0" y1="597.0" x2="499.0" y2="632.5" stroke="#f4dcd8" stroke-width="7.0"/><line x1="499.0" y1="632.5" x2="540.0" y2="668.0" stroke="#6b4228" stroke-width="25"/><line x1="499.0" y1="632.5" x2="540.0" y2="668.0" stroke="#98684a" stroke-width="17.5"/><line x1="499.0" y1="632.5" x2="540.0" y2="668.0" stroke="#caa686" stroke-width="7.0"/><line x1="830.0" y1="597.0" x2="791.0" y2="628.5" stroke="#a8827a" stroke-width="25"/><line x1="830.0" y1="597.0" x2="791.0" y2="628.5" stroke="#d8b0a8" stroke-width="17.5"/><line x1="830.0" y1="597.0" x2="791.0" y2="628.5" stroke="#f4dcd8" stroke-width="7.0"/><line x1="791.0" y1="628.5" x2="752.0" y2="660.0" stroke="#6b4228" stroke-width="25"/><line x1="791.0" y1="628.5" x2="752.0" y2="660.0" stroke="#98684a" stroke-width="17.5"/><line x1="791.0" y1="628.5" x2="752.0" y2="660.0" stroke="#caa686" stroke-width="7.0"/><line x1="456.0" y1="933.0" x2="498.0" y2="895.5" stroke="#a8827a" stroke-width="25"/><line x1="456.0" y1="933.0" x2="498.0" y2="895.5" stroke="#d8b0a8" stroke-width="17.5"/><line x1="456.0" y1="933.0" x2="498.0" y2="895.5" stroke="#f4dcd8" stroke-width="7.0"/><line x1="498.0" y1="895.5" x2="540.0" y2="858.0" stroke="#6b4228" stroke-width="25"/><line x1="498.0" y1="895.5" x2="540.0" y2="858.0" stroke="#98684a" stroke-width="17.5"/><line x1="498.0" y1="895.5" x2="540.0" y2="858.0" stroke="#caa686" stroke-width="7.0"/><line x1="838.0" y1="933.0" x2="795.0" y2="891.5" stroke="#a8827a" stroke-width="25"/><line x1="838.0" y1="933.0" x2="795.0" y2="891.5" stroke="#d8b0a8" stroke-width="17.5"/><line x1="838.0" y1="933.0" x2="795.0" y2="891.5" stroke="#f4dcd8" stroke-width="7.0"/><line x1="795.0" y1="891.5" x2="752.0" y2="850.0" stroke="#6b4228" stroke-width="25"/><line x1="795.0" y1="891.5" x2="752.0" y2="850.0" stroke="#98684a" stroke-width="17.5"/><line x1="795.0" y1="891.5" x2="752.0" y2="850.0" stroke="#caa686" stroke-width="7.0"/><line x1="147.0" y1="658.0" x2="180.0" y2="711.5" stroke="#a8827a" stroke-width="25"/><line x1="147.0" y1="658.0" x2="180.0" y2="711.5" stroke="#d8b0a8" stroke-width="17.5"/><line x1="147.0" y1="658.0" x2="180.0" y2="711.5" stroke="#f4dcd8" stroke-width="7.0"/><line x1="180.0" y1="711.5" x2="213.0" y2="765.0" stroke="#7582ac" stroke-width="25"/><line x1="180.0" y1="711.5" x2="213.0" y2="765.0" stroke="#a2afd4" stroke-width="17.5"/><line x1="180.0" y1="711.5" x2="213.0" y2="765.0" stroke="#d4dbf0" stroke-width="7.0"/><line x1="142.0" y1="790.0" x2="177.5" y2="777.5" stroke="#a8827a" stroke-width="25"/><line x1="142.0" y1="790.0" x2="177.5" y2="777.5" stroke="#d8b0a8" stroke-width="17.5"/><line x1="142.0" y1="790.0" x2="177.5" y2="777.5" stroke="#f4dcd8" stroke-width="7.0"/><line x1="177.5" y1="777.5" x2="213.0" y2="765.0" stroke="#7582ac" stroke-width="25"/><line x1="177.5" y1="777.5" x2="213.0" y2="765.0" stroke="#a2afd4" stroke-width="17.5"/><line x1="177.5" y1="777.5" x2="213.0" y2="765.0" stroke="#d4dbf0" stroke-width="7.0"/><line x1="1147.0" y1="658.0" x2="1112.5" y2="711.5" stroke="#a8827a" stroke-width="25"/><line x1="1147.0" y1="658.0" x2="1112.5" y2="711.5" stroke="#d8b0a8" stroke-width="17.5"/><line x1="1147.0" y1="658.0" x2="1112.5" y2="711.5" stroke="#f4dcd8" stroke-width="7.0"/><line x1="1112.5" y1="711.5" x2="1078.0" y2="765.0" stroke="#7582ac" stroke-width="25"/><line x1="1112.5" y1="711.5" x2="1078.0" y2="765.0" stroke="#a2afd4" stroke-width="17.5"/><line x1="1112.5" y1="711.5" x2="1078.0" y2="765.0" stroke="#d4dbf0" stroke-width="7.0"/><line x1="1150.0" y1="788.0" x2="1114.0" y2="776.5" stroke="#a8827a" stroke-width="25"/><line x1="1150.0" y1="788.0" x2="1114.0" y2="776.5" stroke="#d8b0a8" stroke-width="17.5"/><line x1="1150.0" y1="788.0" x2="1114.0" y2="776.5" stroke="#f4dcd8" stroke-width="7.0"/><line x1="1114.0" y1="776.5" x2="1078.0" y2="765.0" stroke="#7582ac" stroke-width="25"/><line x1="1114.0" y1="776.5" x2="1078.0" y2="765.0" stroke="#a2afd4" stroke-width="17.5"/><line x1="1114.0" y1="776.5" x2="1078.0" y2="765.0" stroke="#d4dbf0" stroke-width="7.0"/><line x1="213.0" y1="765.0" x2="324.3" y2="765.0" stroke="#7582ac" stroke-width="27"/><line x1="213.0" y1="765.0" x2="324.3" y2="765.0" stroke="#a2afd4" stroke-width="18.9"/><line x1="213.0" y1="765.0" x2="324.3" y2="765.0" stroke="#d4dbf0" stroke-width="7.6"/><line x1="324.3" y1="765.0" x2="427.0" y2="765.0" stroke="#6b4228" stroke-width="27"/><line x1="324.3" y1="765.0" x2="427.0" y2="765.0" stroke="#98684a" stroke-width="18.9"/><line x1="324.3" y1="765.0" x2="427.0" y2="765.0" stroke="#caa686" stroke-width="7.6"/><line x1="1078.0" y1="765.0" x2="967.2" y2="763.4" stroke="#7582ac" stroke-width="27"/><line x1="1078.0" y1="765.0" x2="967.2" y2="763.4" stroke="#a2afd4" stroke-width="18.9"/><line x1="1078.0" y1="765.0" x2="967.2" y2="763.4" stroke="#d4dbf0" stroke-width="7.6"/><line x1="967.2" y1="763.4" x2="865.0" y2="762.0" stroke="#6b4228" stroke-width="27"/><line x1="967.2" y1="763.4" x2="865.0" y2="762.0" stroke="#98684a" stroke-width="18.9"/><line x1="967.2" y1="763.4" x2="865.0" y2="762.0" stroke="#caa686" stroke-width="7.6"/><line x1="540.0" y1="668.0" x2="752.0" y2="660.0" stroke="#6b4228" stroke-width="30"/><line x1="540.0" y1="668.0" x2="752.0" y2="660.0" stroke="#98684a" stroke-width="21.0"/><line x1="540.0" y1="668.0" x2="752.0" y2="660.0" stroke="#caa686" stroke-width="8.4"/><line x1="540.0" y1="668.0" x2="427.0" y2="765.0" stroke="#6b4228" stroke-width="30"/><line x1="540.0" y1="668.0" x2="427.0" y2="765.0" stroke="#98684a" stroke-width="21.0"/><line x1="540.0" y1="668.0" x2="427.0" y2="765.0" stroke="#caa686" stroke-width="8.4"/><line x1="752.0" y1="660.0" x2="865.0" y2="762.0" stroke="#6b4228" stroke-width="30"/><line x1="752.0" y1="660.0" x2="865.0" y2="762.0" stroke="#98684a" stroke-width="21.0"/><line x1="752.0" y1="660.0" x2="865.0" y2="762.0" stroke="#caa686" stroke-width="8.4"/><line x1="427.0" y1="765.0" x2="540.0" y2="858.0" stroke="#6b4228" stroke-width="30"/><line x1="427.0" y1="765.0" x2="540.0" y2="858.0" stroke="#98684a" stroke-width="21.0"/><line x1="427.0" y1="765.0" x2="540.0" y2="858.0" stroke="#caa686" stroke-width="8.4"/><line x1="865.0" y1="762.0" x2="752.0" y2="850.0" stroke="#6b4228" stroke-width="30"/><line x1="865.0" y1="762.0" x2="752.0" y2="850.0" stroke="#98684a" stroke-width="21.0"/><line x1="865.0" y1="762.0" x2="752.0" y2="850.0" stroke="#caa686" stroke-width="8.4"/><line x1="540.0" y1="858.0" x2="752.0" y2="850.0" stroke="#6b4228" stroke-width="30"/><line x1="540.0" y1="858.0" x2="752.0" y2="850.0" stroke="#98684a" stroke-width="21.0"/><line x1="540.0" y1="858.0" x2="752.0" y2="850.0" stroke="#caa686" stroke-width="8.4"/><circle cx="458" cy="597" r="25" fill="url(#gH)"/><circle cx="830" cy="597" r="25" fill="url(#gH)"/><circle cx="456" cy="933" r="25" fill="url(#gH)"/><circle cx="838" cy="933" r="25" fill="url(#gH)"/><circle cx="147" cy="658" r="25" fill="url(#gH)"/><circle cx="142" cy="790" r="25" fill="url(#gH)"/><circle cx="1147" cy="658" r="25" fill="url(#gH)"/><circle cx="1150" cy="788" r="25" fill="url(#gH)"/><circle cx="213" cy="765" r="41" fill="url(#gN)"/><circle cx="1078" cy="765" r="41" fill="url(#gN)"/><circle cx="540" cy="668" r="45" fill="url(#gC)"/><circle cx="752" cy="660" r="45" fill="url(#gC)"/><circle cx="427" cy="765" r="45" fill="url(#gC)"/><circle cx="865" cy="762" r="45" fill="url(#gC)"/><circle cx="540" cy="858" r="45" fill="url(#gC)"/><circle cx="752" cy="850" r="45" fill="url(#gC)"/>
<ellipse cx="322" cy="138" rx="24" ry="18" fill="url(#gB)" opacity="0.66"/><ellipse cx="322" cy="138" rx="24" ry="18" fill="url(#gB)" opacity="0.66"/><ellipse cx="972" cy="136" rx="24" ry="18" fill="url(#gR)" opacity="0.66"/><ellipse cx="972" cy="136" rx="24" ry="18" fill="url(#gR)" opacity="0.66"/><ellipse cx="316" cy="468" rx="22" ry="16" fill="url(#gB)" opacity="0.66"/><ellipse cx="316" cy="468" rx="22" ry="16" fill="url(#gB)" opacity="0.66"/><ellipse cx="980" cy="466" rx="22" ry="16" fill="url(#gR)" opacity="0.66"/><ellipse cx="980" cy="466" rx="22" ry="16" fill="url(#gR)" opacity="0.66"/><ellipse cx="530" cy="292" rx="40" ry="30" fill="url(#gR)" opacity="0.66"/><ellipse cx="530" cy="292" rx="40" ry="30" fill="url(#gR)" opacity="0.66"/><ellipse cx="762" cy="296" rx="30" ry="20" fill="url(#gB)" opacity="0.66"/><ellipse cx="762" cy="296" rx="30" ry="20" fill="url(#gB)" opacity="0.66"/><ellipse cx="430" cy="690" rx="76" ry="66" fill="url(#gB)" opacity="0.7"/><path d="M778.0,502.0 C807.8,506.7 868.2,513.3 900.0,533.0 C931.8,552.7 954.2,594.0 969.0,620.0 C983.8,646.0 988.0,669.8 989.0,689.0 C990.0,708.2 986.0,718.7 975.0,735.0 C964.0,751.3 943.3,769.7 923.0,787.0 C902.7,804.3 874.2,826.5 853.0,839.0 C831.8,851.5 813.2,857.7 796.0,862.0 C778.8,866.3 767.3,867.8 750.0,865.0 C732.7,862.2 707.5,855.0 692.0,845.0 C676.5,835.0 663.3,823.3 657.0,805.0 C650.7,786.7 652.0,753.3 654.0,735.0 C656.0,716.7 663.0,705.5 669.0,695.0 C675.0,684.5 690.8,681.7 690.0,672.0 C689.2,662.3 670.3,649.5 664.0,637.0 C657.7,624.5 651.2,613.3 652.0,597.0 C652.8,580.7 657.5,554.3 669.0,539.0 C680.5,523.7 702.8,511.2 721.0,505.0 C739.2,498.8 748.2,497.3 778.0,502.0 Z" fill="url(#gR)" opacity="0.7"/><ellipse cx="770" cy="770" rx="110" ry="95" fill="url(#gRd)" transform="rotate(-30 770 770)"/>
<line x1="752.0" y1="850.0" x2="795.0" y2="891.5" stroke="#6b4228" stroke-width="25"/><line x1="752.0" y1="850.0" x2="795.0" y2="891.5" stroke="#98684a" stroke-width="17.5"/><line x1="752.0" y1="850.0" x2="795.0" y2="891.5" stroke="#caa686" stroke-width="7.0"/><line x1="795.0" y1="891.5" x2="838.0" y2="933.0" stroke="#a8827a" stroke-width="25"/><line x1="795.0" y1="891.5" x2="838.0" y2="933.0" stroke="#d8b0a8" stroke-width="17.5"/><line x1="795.0" y1="891.5" x2="838.0" y2="933.0" stroke="#f4dcd8" stroke-width="7.0"/><circle cx="838" cy="933" r="25" fill="url(#gH)"/>
</g>
</svg>
</body></html>
